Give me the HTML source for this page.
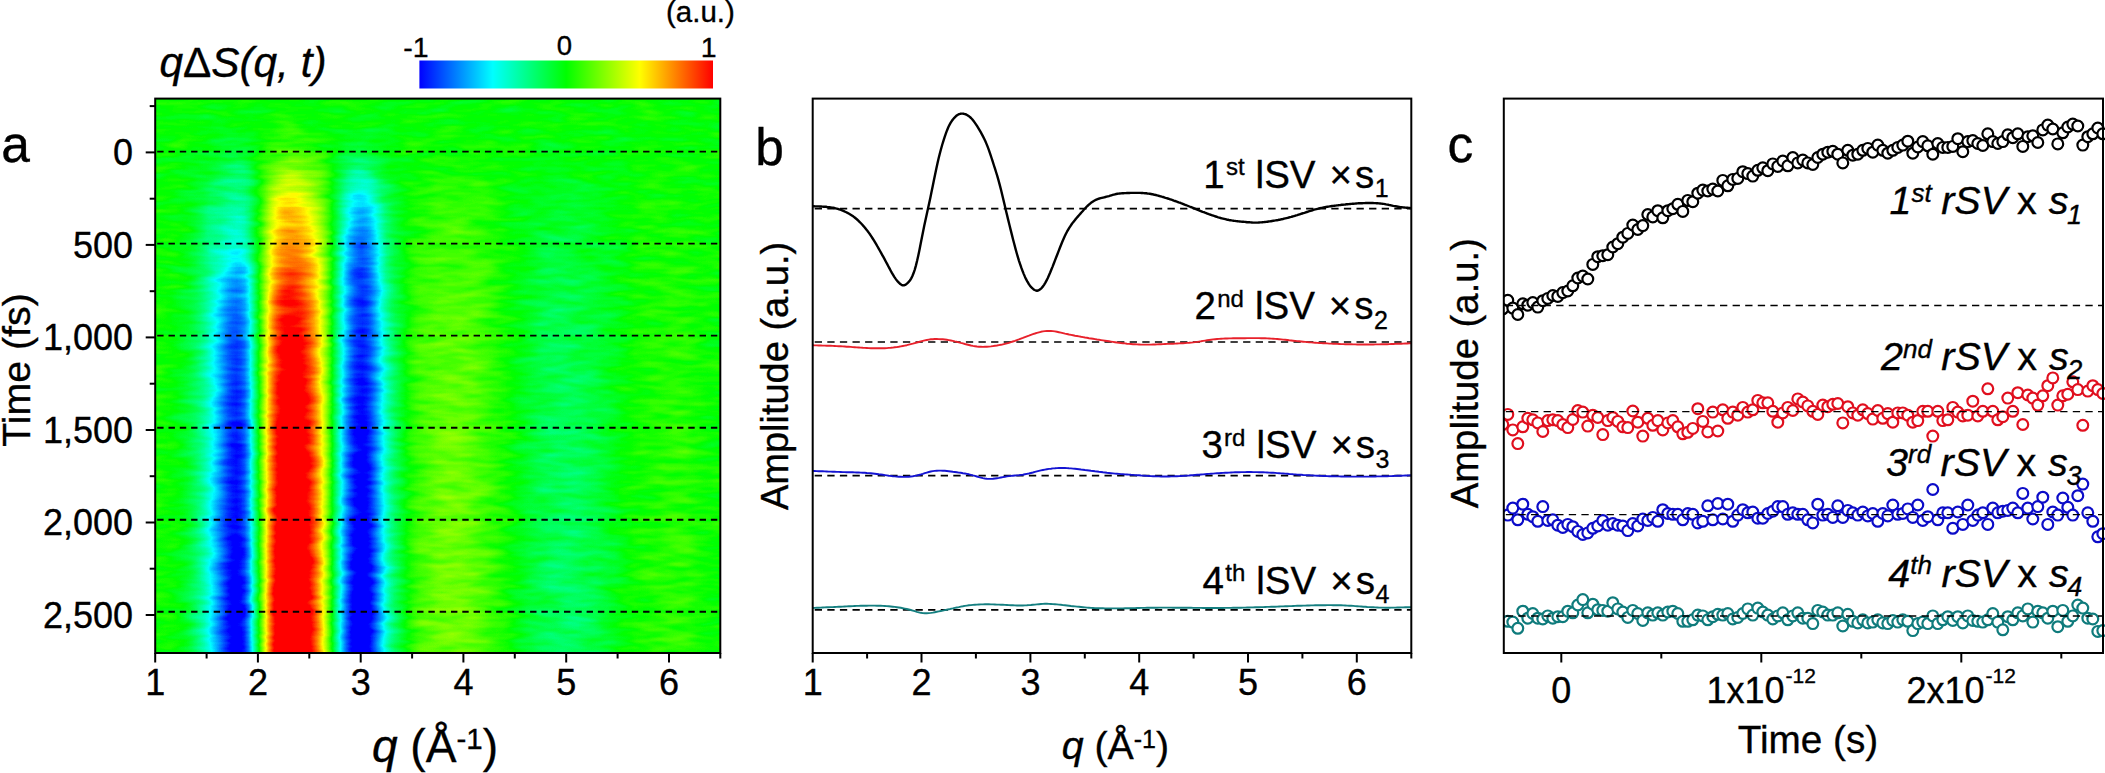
<!DOCTYPE html>
<html><head><meta charset="utf-8"><title>SVD figure</title>
<style>html,body{margin:0;padding:0;background:#fff;overflow:hidden}svg{display:block}text{font-family:"Liberation Sans", sans-serif;fill:#000;stroke:#000;stroke-width:0.35px}.i{font-style:italic}</style>
</head><body>
<svg width="2105" height="773" viewBox="0 0 2105 773">
<defs>
<linearGradient id="cb" x1="0" x2="1" y1="0" y2="0"><stop offset="0" stop-color="#0000ff"/><stop offset="0.25" stop-color="#00ffff"/><stop offset="0.5" stop-color="#00ff00"/><stop offset="0.75" stop-color="#ffff00"/><stop offset="1" stop-color="#ff0000"/></linearGradient>
<linearGradient id="gq" x1="0" x2="1" y1="0" y2="0"><stop offset="0.00%" stop-color="#060000"/><stop offset="0.72%" stop-color="#060000"/><stop offset="1.44%" stop-color="#050000"/><stop offset="2.16%" stop-color="#030000"/><stop offset="2.88%" stop-color="#010000"/><stop offset="3.60%" stop-color="#000200"/><stop offset="4.32%" stop-color="#000700"/><stop offset="5.04%" stop-color="#000c00"/><stop offset="5.76%" stop-color="#001300"/><stop offset="6.47%" stop-color="#001c00"/><stop offset="7.19%" stop-color="#002700"/><stop offset="7.91%" stop-color="#003400"/><stop offset="8.63%" stop-color="#004300"/><stop offset="9.35%" stop-color="#005500"/><stop offset="10.07%" stop-color="#006900"/><stop offset="10.79%" stop-color="#007d00"/><stop offset="11.51%" stop-color="#009200"/><stop offset="12.23%" stop-color="#00a700"/><stop offset="12.95%" stop-color="#00ba00"/><stop offset="13.67%" stop-color="#00c600"/><stop offset="14.39%" stop-color="#00cb00"/><stop offset="15.11%" stop-color="#00c200"/><stop offset="15.83%" stop-color="#00af00"/><stop offset="16.55%" stop-color="#008900"/><stop offset="17.27%" stop-color="#005100"/><stop offset="17.99%" stop-color="#001a00"/><stop offset="18.71%" stop-color="#1b0000"/><stop offset="19.42%" stop-color="#520000"/><stop offset="20.14%" stop-color="#870000"/><stop offset="20.86%" stop-color="#b10000"/><stop offset="21.58%" stop-color="#d20000"/><stop offset="22.30%" stop-color="#e80000"/><stop offset="23.02%" stop-color="#f50000"/><stop offset="23.74%" stop-color="#fb0000"/><stop offset="24.46%" stop-color="#fb0000"/><stop offset="25.18%" stop-color="#f50000"/><stop offset="25.90%" stop-color="#ea0000"/><stop offset="26.62%" stop-color="#d90000"/><stop offset="27.34%" stop-color="#c60000"/><stop offset="28.06%" stop-color="#ae0000"/><stop offset="28.78%" stop-color="#900000"/><stop offset="29.50%" stop-color="#6d0000"/><stop offset="30.22%" stop-color="#470000"/><stop offset="30.94%" stop-color="#190000"/><stop offset="31.65%" stop-color="#001700"/><stop offset="32.37%" stop-color="#004500"/><stop offset="33.09%" stop-color="#007100"/><stop offset="33.81%" stop-color="#009600"/><stop offset="34.53%" stop-color="#00b300"/><stop offset="35.25%" stop-color="#00c900"/><stop offset="35.97%" stop-color="#00d500"/><stop offset="36.69%" stop-color="#00d900"/><stop offset="37.41%" stop-color="#00d100"/><stop offset="38.13%" stop-color="#00bf00"/><stop offset="38.85%" stop-color="#00a600"/><stop offset="39.57%" stop-color="#008900"/><stop offset="40.29%" stop-color="#006c00"/><stop offset="41.01%" stop-color="#005000"/><stop offset="41.73%" stop-color="#003900"/><stop offset="42.45%" stop-color="#002700"/><stop offset="43.17%" stop-color="#001900"/><stop offset="43.88%" stop-color="#000c00"/><stop offset="44.60%" stop-color="#010000"/><stop offset="45.32%" stop-color="#0c0000"/><stop offset="46.04%" stop-color="#140000"/><stop offset="46.76%" stop-color="#1a0000"/><stop offset="47.48%" stop-color="#1d0000"/><stop offset="48.20%" stop-color="#200000"/><stop offset="48.92%" stop-color="#230000"/><stop offset="49.64%" stop-color="#260000"/><stop offset="50.36%" stop-color="#280000"/><stop offset="51.08%" stop-color="#290000"/><stop offset="51.80%" stop-color="#2a0000"/><stop offset="52.52%" stop-color="#2a0000"/><stop offset="53.24%" stop-color="#2a0000"/><stop offset="53.96%" stop-color="#2a0000"/><stop offset="54.68%" stop-color="#290000"/><stop offset="55.40%" stop-color="#270000"/><stop offset="56.12%" stop-color="#250000"/><stop offset="56.83%" stop-color="#220000"/><stop offset="57.55%" stop-color="#1f0000"/><stop offset="58.27%" stop-color="#1c0000"/><stop offset="58.99%" stop-color="#180000"/><stop offset="59.71%" stop-color="#140000"/><stop offset="60.43%" stop-color="#100000"/><stop offset="61.15%" stop-color="#0b0000"/><stop offset="61.87%" stop-color="#070000"/><stop offset="62.59%" stop-color="#020000"/><stop offset="63.31%" stop-color="#000200"/><stop offset="64.03%" stop-color="#000700"/><stop offset="64.75%" stop-color="#000b00"/><stop offset="65.47%" stop-color="#000f00"/><stop offset="66.19%" stop-color="#001300"/><stop offset="66.91%" stop-color="#001700"/><stop offset="67.63%" stop-color="#001a00"/><stop offset="68.35%" stop-color="#001d00"/><stop offset="69.06%" stop-color="#001f00"/><stop offset="69.78%" stop-color="#002100"/><stop offset="70.50%" stop-color="#002200"/><stop offset="71.22%" stop-color="#002300"/><stop offset="71.94%" stop-color="#002400"/><stop offset="72.66%" stop-color="#002500"/><stop offset="73.38%" stop-color="#002500"/><stop offset="74.10%" stop-color="#002400"/><stop offset="74.82%" stop-color="#002300"/><stop offset="75.54%" stop-color="#002100"/><stop offset="76.26%" stop-color="#001f00"/><stop offset="76.98%" stop-color="#001d00"/><stop offset="77.70%" stop-color="#001b00"/><stop offset="78.42%" stop-color="#001800"/><stop offset="79.14%" stop-color="#001500"/><stop offset="79.86%" stop-color="#001200"/><stop offset="80.58%" stop-color="#000e00"/><stop offset="81.29%" stop-color="#000b00"/><stop offset="82.01%" stop-color="#000700"/><stop offset="82.73%" stop-color="#000300"/><stop offset="83.45%" stop-color="#000000"/><stop offset="84.17%" stop-color="#020000"/><stop offset="84.89%" stop-color="#050000"/><stop offset="85.61%" stop-color="#060000"/><stop offset="86.33%" stop-color="#080000"/><stop offset="87.05%" stop-color="#090000"/><stop offset="87.77%" stop-color="#0b0000"/><stop offset="88.49%" stop-color="#0c0000"/><stop offset="89.21%" stop-color="#0d0000"/><stop offset="89.93%" stop-color="#0e0000"/><stop offset="90.65%" stop-color="#0e0000"/><stop offset="91.37%" stop-color="#0f0000"/><stop offset="92.09%" stop-color="#0f0000"/><stop offset="92.81%" stop-color="#0f0000"/><stop offset="93.53%" stop-color="#0e0000"/><stop offset="94.24%" stop-color="#0d0000"/><stop offset="94.96%" stop-color="#0b0000"/><stop offset="95.68%" stop-color="#090000"/><stop offset="96.40%" stop-color="#070000"/><stop offset="97.12%" stop-color="#050000"/><stop offset="97.84%" stop-color="#030000"/><stop offset="98.56%" stop-color="#020000"/><stop offset="99.28%" stop-color="#020000"/><stop offset="100.00%" stop-color="#020000"/></linearGradient>
<linearGradient id="gt" gradientUnits="userSpaceOnUse" x1="0" x2="0" y1="98.6" y2="653"><stop offset="0.36%" stop-color="#000" stop-opacity="1.000"/><stop offset="1.19%" stop-color="#000" stop-opacity="1.000"/><stop offset="1.19%" stop-color="#000" stop-opacity="1.000"/><stop offset="2.03%" stop-color="#000" stop-opacity="1.000"/><stop offset="2.03%" stop-color="#000" stop-opacity="1.000"/><stop offset="2.86%" stop-color="#000" stop-opacity="1.000"/><stop offset="2.86%" stop-color="#000" stop-opacity="0.992"/><stop offset="3.70%" stop-color="#000" stop-opacity="0.992"/><stop offset="3.70%" stop-color="#000" stop-opacity="0.992"/><stop offset="4.53%" stop-color="#000" stop-opacity="0.992"/><stop offset="4.53%" stop-color="#000" stop-opacity="0.977"/><stop offset="5.37%" stop-color="#000" stop-opacity="0.977"/><stop offset="5.37%" stop-color="#000" stop-opacity="0.969"/><stop offset="6.20%" stop-color="#000" stop-opacity="0.969"/><stop offset="6.20%" stop-color="#000" stop-opacity="0.954"/><stop offset="7.03%" stop-color="#000" stop-opacity="0.954"/><stop offset="7.03%" stop-color="#000" stop-opacity="0.947"/><stop offset="7.87%" stop-color="#000" stop-opacity="0.947"/><stop offset="7.87%" stop-color="#000" stop-opacity="0.932"/><stop offset="8.70%" stop-color="#000" stop-opacity="0.932"/><stop offset="8.70%" stop-color="#000" stop-opacity="0.916"/><stop offset="9.54%" stop-color="#000" stop-opacity="0.916"/><stop offset="9.54%" stop-color="#000" stop-opacity="0.893"/><stop offset="10.37%" stop-color="#000" stop-opacity="0.893"/><stop offset="10.37%" stop-color="#000" stop-opacity="0.874"/><stop offset="11.21%" stop-color="#000" stop-opacity="0.874"/><stop offset="11.21%" stop-color="#000" stop-opacity="0.850"/><stop offset="12.04%" stop-color="#000" stop-opacity="0.850"/><stop offset="12.04%" stop-color="#000" stop-opacity="0.828"/><stop offset="12.87%" stop-color="#000" stop-opacity="0.828"/><stop offset="12.87%" stop-color="#000" stop-opacity="0.794"/><stop offset="13.71%" stop-color="#000" stop-opacity="0.794"/><stop offset="13.71%" stop-color="#000" stop-opacity="0.768"/><stop offset="14.54%" stop-color="#000" stop-opacity="0.768"/><stop offset="14.54%" stop-color="#000" stop-opacity="0.740"/><stop offset="15.38%" stop-color="#000" stop-opacity="0.740"/><stop offset="15.38%" stop-color="#000" stop-opacity="0.722"/><stop offset="16.21%" stop-color="#000" stop-opacity="0.722"/><stop offset="16.21%" stop-color="#000" stop-opacity="0.697"/><stop offset="17.05%" stop-color="#000" stop-opacity="0.697"/><stop offset="17.05%" stop-color="#000" stop-opacity="0.675"/><stop offset="17.88%" stop-color="#000" stop-opacity="0.675"/><stop offset="17.88%" stop-color="#000" stop-opacity="0.643"/><stop offset="18.72%" stop-color="#000" stop-opacity="0.643"/><stop offset="18.72%" stop-color="#000" stop-opacity="0.624"/><stop offset="19.55%" stop-color="#000" stop-opacity="0.624"/><stop offset="19.55%" stop-color="#000" stop-opacity="0.600"/><stop offset="20.38%" stop-color="#000" stop-opacity="0.600"/><stop offset="20.38%" stop-color="#000" stop-opacity="0.586"/><stop offset="21.22%" stop-color="#000" stop-opacity="0.586"/><stop offset="21.22%" stop-color="#000" stop-opacity="0.568"/><stop offset="22.05%" stop-color="#000" stop-opacity="0.568"/><stop offset="22.05%" stop-color="#000" stop-opacity="0.544"/><stop offset="22.89%" stop-color="#000" stop-opacity="0.544"/><stop offset="22.89%" stop-color="#000" stop-opacity="0.537"/><stop offset="23.72%" stop-color="#000" stop-opacity="0.537"/><stop offset="23.72%" stop-color="#000" stop-opacity="0.518"/><stop offset="24.56%" stop-color="#000" stop-opacity="0.518"/><stop offset="24.56%" stop-color="#000" stop-opacity="0.521"/><stop offset="25.39%" stop-color="#000" stop-opacity="0.521"/><stop offset="25.39%" stop-color="#000" stop-opacity="0.503"/><stop offset="26.23%" stop-color="#000" stop-opacity="0.503"/><stop offset="26.23%" stop-color="#000" stop-opacity="0.501"/><stop offset="27.06%" stop-color="#000" stop-opacity="0.501"/><stop offset="27.06%" stop-color="#000" stop-opacity="0.482"/><stop offset="27.89%" stop-color="#000" stop-opacity="0.482"/><stop offset="27.89%" stop-color="#000" stop-opacity="0.482"/><stop offset="28.73%" stop-color="#000" stop-opacity="0.482"/><stop offset="28.73%" stop-color="#000" stop-opacity="0.457"/><stop offset="29.56%" stop-color="#000" stop-opacity="0.457"/><stop offset="29.56%" stop-color="#000" stop-opacity="0.447"/><stop offset="30.40%" stop-color="#000" stop-opacity="0.447"/><stop offset="30.40%" stop-color="#000" stop-opacity="0.421"/><stop offset="31.23%" stop-color="#000" stop-opacity="0.421"/><stop offset="31.23%" stop-color="#000" stop-opacity="0.408"/><stop offset="32.07%" stop-color="#000" stop-opacity="0.408"/><stop offset="32.07%" stop-color="#000" stop-opacity="0.400"/><stop offset="32.90%" stop-color="#000" stop-opacity="0.400"/><stop offset="32.90%" stop-color="#000" stop-opacity="0.387"/><stop offset="33.74%" stop-color="#000" stop-opacity="0.387"/><stop offset="33.74%" stop-color="#000" stop-opacity="0.385"/><stop offset="34.57%" stop-color="#000" stop-opacity="0.385"/><stop offset="34.57%" stop-color="#000" stop-opacity="0.364"/><stop offset="35.40%" stop-color="#000" stop-opacity="0.364"/><stop offset="35.40%" stop-color="#000" stop-opacity="0.361"/><stop offset="36.24%" stop-color="#000" stop-opacity="0.361"/><stop offset="36.24%" stop-color="#000" stop-opacity="0.338"/><stop offset="37.07%" stop-color="#000" stop-opacity="0.338"/><stop offset="37.07%" stop-color="#000" stop-opacity="0.331"/><stop offset="37.91%" stop-color="#000" stop-opacity="0.331"/><stop offset="37.91%" stop-color="#000" stop-opacity="0.316"/><stop offset="38.74%" stop-color="#000" stop-opacity="0.316"/><stop offset="38.74%" stop-color="#000" stop-opacity="0.311"/><stop offset="39.58%" stop-color="#000" stop-opacity="0.311"/><stop offset="39.58%" stop-color="#000" stop-opacity="0.304"/><stop offset="40.41%" stop-color="#000" stop-opacity="0.304"/><stop offset="40.41%" stop-color="#000" stop-opacity="0.297"/><stop offset="41.25%" stop-color="#000" stop-opacity="0.297"/><stop offset="41.25%" stop-color="#000" stop-opacity="0.287"/><stop offset="42.08%" stop-color="#000" stop-opacity="0.287"/><stop offset="42.08%" stop-color="#000" stop-opacity="0.281"/><stop offset="42.91%" stop-color="#000" stop-opacity="0.281"/><stop offset="42.91%" stop-color="#000" stop-opacity="0.267"/><stop offset="43.75%" stop-color="#000" stop-opacity="0.267"/><stop offset="43.75%" stop-color="#000" stop-opacity="0.267"/><stop offset="44.58%" stop-color="#000" stop-opacity="0.267"/><stop offset="44.58%" stop-color="#000" stop-opacity="0.251"/><stop offset="45.42%" stop-color="#000" stop-opacity="0.251"/><stop offset="45.42%" stop-color="#000" stop-opacity="0.255"/><stop offset="46.25%" stop-color="#000" stop-opacity="0.255"/><stop offset="46.25%" stop-color="#000" stop-opacity="0.241"/><stop offset="47.09%" stop-color="#000" stop-opacity="0.241"/><stop offset="47.09%" stop-color="#000" stop-opacity="0.248"/><stop offset="47.92%" stop-color="#000" stop-opacity="0.248"/><stop offset="47.92%" stop-color="#000" stop-opacity="0.244"/><stop offset="48.75%" stop-color="#000" stop-opacity="0.244"/><stop offset="48.75%" stop-color="#000" stop-opacity="0.247"/><stop offset="49.59%" stop-color="#000" stop-opacity="0.247"/><stop offset="49.59%" stop-color="#000" stop-opacity="0.241"/><stop offset="50.42%" stop-color="#000" stop-opacity="0.241"/><stop offset="50.42%" stop-color="#000" stop-opacity="0.227"/><stop offset="51.26%" stop-color="#000" stop-opacity="0.227"/><stop offset="51.26%" stop-color="#000" stop-opacity="0.214"/><stop offset="52.09%" stop-color="#000" stop-opacity="0.214"/><stop offset="52.09%" stop-color="#000" stop-opacity="0.203"/><stop offset="52.93%" stop-color="#000" stop-opacity="0.203"/><stop offset="52.93%" stop-color="#000" stop-opacity="0.207"/><stop offset="53.76%" stop-color="#000" stop-opacity="0.207"/><stop offset="53.76%" stop-color="#000" stop-opacity="0.207"/><stop offset="54.60%" stop-color="#000" stop-opacity="0.207"/><stop offset="54.60%" stop-color="#000" stop-opacity="0.219"/><stop offset="55.43%" stop-color="#000" stop-opacity="0.219"/><stop offset="55.43%" stop-color="#000" stop-opacity="0.208"/><stop offset="56.26%" stop-color="#000" stop-opacity="0.208"/><stop offset="56.26%" stop-color="#000" stop-opacity="0.210"/><stop offset="57.10%" stop-color="#000" stop-opacity="0.210"/><stop offset="57.10%" stop-color="#000" stop-opacity="0.196"/><stop offset="57.93%" stop-color="#000" stop-opacity="0.196"/><stop offset="57.93%" stop-color="#000" stop-opacity="0.194"/><stop offset="58.77%" stop-color="#000" stop-opacity="0.194"/><stop offset="58.77%" stop-color="#000" stop-opacity="0.183"/><stop offset="59.60%" stop-color="#000" stop-opacity="0.183"/><stop offset="59.60%" stop-color="#000" stop-opacity="0.184"/><stop offset="60.44%" stop-color="#000" stop-opacity="0.184"/><stop offset="60.44%" stop-color="#000" stop-opacity="0.179"/><stop offset="61.27%" stop-color="#000" stop-opacity="0.179"/><stop offset="61.27%" stop-color="#000" stop-opacity="0.186"/><stop offset="62.11%" stop-color="#000" stop-opacity="0.186"/><stop offset="62.11%" stop-color="#000" stop-opacity="0.185"/><stop offset="62.94%" stop-color="#000" stop-opacity="0.185"/><stop offset="62.94%" stop-color="#000" stop-opacity="0.182"/><stop offset="63.77%" stop-color="#000" stop-opacity="0.182"/><stop offset="63.77%" stop-color="#000" stop-opacity="0.171"/><stop offset="64.61%" stop-color="#000" stop-opacity="0.171"/><stop offset="64.61%" stop-color="#000" stop-opacity="0.169"/><stop offset="65.44%" stop-color="#000" stop-opacity="0.169"/><stop offset="65.44%" stop-color="#000" stop-opacity="0.162"/><stop offset="66.28%" stop-color="#000" stop-opacity="0.162"/><stop offset="66.28%" stop-color="#000" stop-opacity="0.170"/><stop offset="67.11%" stop-color="#000" stop-opacity="0.170"/><stop offset="67.11%" stop-color="#000" stop-opacity="0.164"/><stop offset="67.95%" stop-color="#000" stop-opacity="0.164"/><stop offset="67.95%" stop-color="#000" stop-opacity="0.169"/><stop offset="68.78%" stop-color="#000" stop-opacity="0.169"/><stop offset="68.78%" stop-color="#000" stop-opacity="0.165"/><stop offset="69.62%" stop-color="#000" stop-opacity="0.165"/><stop offset="69.62%" stop-color="#000" stop-opacity="0.175"/><stop offset="70.45%" stop-color="#000" stop-opacity="0.175"/><stop offset="70.45%" stop-color="#000" stop-opacity="0.168"/><stop offset="71.28%" stop-color="#000" stop-opacity="0.168"/><stop offset="71.28%" stop-color="#000" stop-opacity="0.173"/><stop offset="72.12%" stop-color="#000" stop-opacity="0.173"/><stop offset="72.12%" stop-color="#000" stop-opacity="0.160"/><stop offset="72.95%" stop-color="#000" stop-opacity="0.160"/><stop offset="72.95%" stop-color="#000" stop-opacity="0.166"/><stop offset="73.79%" stop-color="#000" stop-opacity="0.166"/><stop offset="73.79%" stop-color="#000" stop-opacity="0.153"/><stop offset="74.62%" stop-color="#000" stop-opacity="0.153"/><stop offset="74.62%" stop-color="#000" stop-opacity="0.161"/><stop offset="75.46%" stop-color="#000" stop-opacity="0.161"/><stop offset="75.46%" stop-color="#000" stop-opacity="0.148"/><stop offset="76.29%" stop-color="#000" stop-opacity="0.148"/><stop offset="76.29%" stop-color="#000" stop-opacity="0.152"/><stop offset="77.12%" stop-color="#000" stop-opacity="0.152"/><stop offset="77.12%" stop-color="#000" stop-opacity="0.140"/><stop offset="77.96%" stop-color="#000" stop-opacity="0.140"/><stop offset="77.96%" stop-color="#000" stop-opacity="0.142"/><stop offset="78.79%" stop-color="#000" stop-opacity="0.142"/><stop offset="78.79%" stop-color="#000" stop-opacity="0.132"/><stop offset="79.63%" stop-color="#000" stop-opacity="0.132"/><stop offset="79.63%" stop-color="#000" stop-opacity="0.139"/><stop offset="80.46%" stop-color="#000" stop-opacity="0.139"/><stop offset="80.46%" stop-color="#000" stop-opacity="0.132"/><stop offset="81.30%" stop-color="#000" stop-opacity="0.132"/><stop offset="81.30%" stop-color="#000" stop-opacity="0.133"/><stop offset="82.13%" stop-color="#000" stop-opacity="0.133"/><stop offset="82.13%" stop-color="#000" stop-opacity="0.120"/><stop offset="82.97%" stop-color="#000" stop-opacity="0.120"/><stop offset="82.97%" stop-color="#000" stop-opacity="0.125"/><stop offset="83.80%" stop-color="#000" stop-opacity="0.125"/><stop offset="83.80%" stop-color="#000" stop-opacity="0.117"/><stop offset="84.63%" stop-color="#000" stop-opacity="0.117"/><stop offset="84.63%" stop-color="#000" stop-opacity="0.131"/><stop offset="85.47%" stop-color="#000" stop-opacity="0.131"/><stop offset="85.47%" stop-color="#000" stop-opacity="0.125"/><stop offset="86.30%" stop-color="#000" stop-opacity="0.125"/><stop offset="86.30%" stop-color="#000" stop-opacity="0.121"/><stop offset="87.14%" stop-color="#000" stop-opacity="0.121"/><stop offset="87.14%" stop-color="#000" stop-opacity="0.110"/><stop offset="87.97%" stop-color="#000" stop-opacity="0.110"/><stop offset="87.97%" stop-color="#000" stop-opacity="0.090"/><stop offset="88.81%" stop-color="#000" stop-opacity="0.090"/><stop offset="88.81%" stop-color="#000" stop-opacity="0.092"/><stop offset="89.64%" stop-color="#000" stop-opacity="0.092"/><stop offset="89.64%" stop-color="#000" stop-opacity="0.088"/><stop offset="90.48%" stop-color="#000" stop-opacity="0.088"/><stop offset="90.48%" stop-color="#000" stop-opacity="0.101"/><stop offset="91.31%" stop-color="#000" stop-opacity="0.101"/><stop offset="91.31%" stop-color="#000" stop-opacity="0.088"/><stop offset="92.14%" stop-color="#000" stop-opacity="0.088"/><stop offset="92.14%" stop-color="#000" stop-opacity="0.080"/><stop offset="92.98%" stop-color="#000" stop-opacity="0.080"/><stop offset="92.98%" stop-color="#000" stop-opacity="0.078"/><stop offset="93.81%" stop-color="#000" stop-opacity="0.078"/><stop offset="93.81%" stop-color="#000" stop-opacity="0.083"/><stop offset="94.65%" stop-color="#000" stop-opacity="0.083"/><stop offset="94.65%" stop-color="#000" stop-opacity="0.109"/><stop offset="95.48%" stop-color="#000" stop-opacity="0.109"/><stop offset="95.48%" stop-color="#000" stop-opacity="0.103"/><stop offset="96.32%" stop-color="#000" stop-opacity="0.103"/><stop offset="96.32%" stop-color="#000" stop-opacity="0.107"/><stop offset="97.15%" stop-color="#000" stop-opacity="0.107"/><stop offset="97.15%" stop-color="#000" stop-opacity="0.091"/><stop offset="97.99%" stop-color="#000" stop-opacity="0.091"/><stop offset="97.99%" stop-color="#000" stop-opacity="0.095"/><stop offset="98.82%" stop-color="#000" stop-opacity="0.095"/><stop offset="98.82%" stop-color="#000" stop-opacity="0.095"/><stop offset="99.65%" stop-color="#000" stop-opacity="0.095"/><stop offset="99.65%" stop-color="#000" stop-opacity="0.095"/><stop offset="100.00%" stop-color="#000" stop-opacity="0.095"/></linearGradient>
<radialGradient id="gb"><stop offset="0" stop-color="#0000ff" stop-opacity="1"/><stop offset="0.5" stop-color="#0000ff" stop-opacity="0.55"/><stop offset="1" stop-color="#0000ff" stop-opacity="0"/></radialGradient>
<radialGradient id="gr"><stop offset="0" stop-color="#1e0000" stop-opacity="1"/><stop offset="0.55" stop-color="#1e0000" stop-opacity="0.6"/><stop offset="1" stop-color="#1e0000" stop-opacity="0"/></radialGradient>
<filter id="cm" x="0" y="0" width="1" height="1" color-interpolation-filters="sRGB"><feColorMatrix in="SourceGraphic" type="matrix" values="0.3696 -0.3696 -0.048 0 0.5  0.3696 -0.3696 -0.048 0 0.5  0.3696 -0.3696 -0.048 0 0.5  0 0 0 0 1" result="v"/><feTurbulence type="fractalNoise" baseFrequency="0.03 0.14" numOctaves="2" seed="7" result="n"/><feColorMatrix in="n" type="matrix" values="1 0 0 0 0  1 0 0 0 0  1 0 0 0 0  0 0 0 0 1" result="n1"/><feComposite in="v" in2="n1" operator="arithmetic" k1="0" k2="1" k3="0.07" k4="-0.035" result="vn"/><feComponentTransfer in="vn"><feFuncR type="table" tableValues="0 0 0 0 0 1 1 1 1"/><feFuncG type="table" tableValues="0 0 0 1 1 1 0 0 0"/><feFuncB type="table" tableValues="1 1 1 1 0 0 0 0 0"/><feFuncA type="linear" slope="0" intercept="1"/></feComponentTransfer></filter>
<clipPath id="ca"><rect x="155.2" y="98.6" width="565.1" height="554.4"/></clipPath>
<clipPath id="cc"><rect x="1503.8" y="98.6" width="601.2" height="554.4"/></clipPath>
</defs>
<rect width="2105" height="773" fill="#fff"/>
<g filter="url(#cm)" clip-path="url(#ca)">
<rect x="155.2" y="98.6" width="565.1" height="554.4" fill="url(#gq)"/>
<rect x="155.2" y="98.6" width="565.1" height="554.4" fill="url(#gt)"/>
<ellipse cx="360.7" cy="248.6" rx="26" ry="95" fill="url(#gb)" style="mix-blend-mode:screen"/>
<ellipse cx="234.3" cy="226.4" rx="27" ry="62" fill="url(#gr)" style="mix-blend-mode:screen"/>
</g>
<rect x="419.4" y="60.5" width="293.6" height="28" fill="url(#cb)"/>
<line x1="157.2" x2="720.3" y1="151.6" y2="151.6" stroke="#000" stroke-width="1.9" stroke-dasharray="6.4 4.9"/>
<line x1="157.2" x2="720.3" y1="243.6" y2="243.6" stroke="#000" stroke-width="1.9" stroke-dasharray="6.4 4.9"/>
<line x1="157.2" x2="720.3" y1="335.6" y2="335.6" stroke="#000" stroke-width="1.9" stroke-dasharray="6.4 4.9"/>
<line x1="157.2" x2="720.3" y1="427.7" y2="427.7" stroke="#000" stroke-width="1.9" stroke-dasharray="6.4 4.9"/>
<line x1="157.2" x2="720.3" y1="519.7" y2="519.7" stroke="#000" stroke-width="1.9" stroke-dasharray="6.4 4.9"/>
<line x1="157.2" x2="720.3" y1="611.7" y2="611.7" stroke="#000" stroke-width="1.9" stroke-dasharray="6.4 4.9"/>
<rect x="155.2" y="98.6" width="565.1" height="554.4" fill="none" stroke="#000" stroke-width="2"/>
<line x1="145.7" x2="155.2" y1="152.4" y2="152.4" stroke="#000" stroke-width="2"/>
<line x1="145.7" x2="155.2" y1="244.9" y2="244.9" stroke="#000" stroke-width="2"/>
<line x1="145.7" x2="155.2" y1="337.4" y2="337.4" stroke="#000" stroke-width="2"/>
<line x1="145.7" x2="155.2" y1="430" y2="430" stroke="#000" stroke-width="2"/>
<line x1="145.7" x2="155.2" y1="522.5" y2="522.5" stroke="#000" stroke-width="2"/>
<line x1="145.7" x2="155.2" y1="615" y2="615" stroke="#000" stroke-width="2"/>
<line x1="149.7" x2="155.2" y1="106.1" y2="106.1" stroke="#000" stroke-width="2"/>
<line x1="149.7" x2="155.2" y1="198.7" y2="198.7" stroke="#000" stroke-width="2"/>
<line x1="149.7" x2="155.2" y1="291.2" y2="291.2" stroke="#000" stroke-width="2"/>
<line x1="149.7" x2="155.2" y1="383.7" y2="383.7" stroke="#000" stroke-width="2"/>
<line x1="149.7" x2="155.2" y1="476.2" y2="476.2" stroke="#000" stroke-width="2"/>
<line x1="149.7" x2="155.2" y1="568.7" y2="568.7" stroke="#000" stroke-width="2"/>
<line x1="155.2" x2="155.2" y1="653" y2="662.5" stroke="#000" stroke-width="2"/>
<line x1="206.6" x2="206.6" y1="653" y2="658.5" stroke="#000" stroke-width="2"/>
<line x1="257.9" x2="257.9" y1="653" y2="662.5" stroke="#000" stroke-width="2"/>
<line x1="309.3" x2="309.3" y1="653" y2="658.5" stroke="#000" stroke-width="2"/>
<line x1="360.7" x2="360.7" y1="653" y2="662.5" stroke="#000" stroke-width="2"/>
<line x1="412.1" x2="412.1" y1="653" y2="658.5" stroke="#000" stroke-width="2"/>
<line x1="463.4" x2="463.4" y1="653" y2="662.5" stroke="#000" stroke-width="2"/>
<line x1="514.8" x2="514.8" y1="653" y2="658.5" stroke="#000" stroke-width="2"/>
<line x1="566.2" x2="566.2" y1="653" y2="662.5" stroke="#000" stroke-width="2"/>
<line x1="617.6" x2="617.6" y1="653" y2="658.5" stroke="#000" stroke-width="2"/>
<line x1="669" x2="669" y1="653" y2="662.5" stroke="#000" stroke-width="2"/>
<line x1="720.3" x2="720.3" y1="653" y2="658.5" stroke="#000" stroke-width="2"/>
<text x="133" y="165.3" font-size="36" text-anchor="end">0</text>
<text x="133" y="257.8" font-size="36" text-anchor="end">500</text>
<text x="133" y="350.3" font-size="36" text-anchor="end">1,000</text>
<text x="133" y="442.9" font-size="36" text-anchor="end">1,500</text>
<text x="133" y="535.4" font-size="36" text-anchor="end">2,000</text>
<text x="133" y="627.9" font-size="36" text-anchor="end">2,500</text>
<text x="155.2" y="695.1" font-size="36" text-anchor="middle">1</text>
<text x="257.9" y="695.1" font-size="36" text-anchor="middle">2</text>
<text x="360.7" y="695.1" font-size="36" text-anchor="middle">3</text>
<text x="463.4" y="695.1" font-size="36" text-anchor="middle">4</text>
<text x="566.2" y="695.1" font-size="36" text-anchor="middle">5</text>
<text x="669" y="695.1" font-size="36" text-anchor="middle">6</text>
<text transform="translate(30.2 370) rotate(-90)" font-size="39.3" text-anchor="middle">Time (fs)</text>
<text x="435" y="761.6" font-size="46.1" text-anchor="middle"><tspan class="i">q</tspan> (Å<tspan font-size="29.5" dy="-12.7">-1</tspan><tspan dy="12.7">)</tspan></text>
<text x="159.5" y="77" font-size="42.3"><tspan class="i">q</tspan>Δ<tspan class="i">S</tspan><tspan class="i">(q, t</tspan><tspan class="i">)</tspan></text>
<text x="428.5" y="57.4" font-size="28.5" text-anchor="end">-1</text>
<text x="564.5" y="55.2" font-size="27.5" text-anchor="middle">0</text>
<text x="716.5" y="57.4" font-size="28.5" text-anchor="end">1</text>
<text x="666" y="21.7" font-size="29.5" text-anchor="start">(a.u.)</text>
<text x="1.2" y="162" font-size="51.5" text-anchor="start" stroke="#000" stroke-width="0.5">a</text>
<line x1="814.7" x2="1411.3" y1="208.7" y2="208.7" stroke="#000" stroke-width="1.7" stroke-dasharray="7.3 5.3"/>
<line x1="814.7" x2="1411.3" y1="342" y2="342" stroke="#000" stroke-width="1.7" stroke-dasharray="7.3 5.3"/>
<line x1="814.7" x2="1411.3" y1="475.6" y2="475.6" stroke="#000" stroke-width="1.7" stroke-dasharray="7.3 5.3"/>
<line x1="814.7" x2="1411.3" y1="609.8" y2="609.8" stroke="#000" stroke-width="1.7" stroke-dasharray="7.3 5.3"/>
<path d="M812.7 206.3 L813.9 206.3 L815.1 206.4 L816.3 206.4 L817.5 206.4 L818.7 206.4 L819.9 206.5 L821.1 206.5 L822.3 206.6 L823.5 206.7 L824.7 206.8 L825.9 206.8 L827.1 207 L828.3 207.1 L829.5 207.2 L830.7 207.4 L831.9 207.6 L833.1 207.8 L834.3 208 L835.5 208.3 L836.7 208.6 L837.9 208.9 L839.1 209.3 L840.3 209.7 L841.5 210.1 L842.7 210.6 L843.9 211.1 L845.1 211.7 L846.3 212.3 L847.5 212.9 L848.7 213.5 L849.9 214.2 L851.1 215 L852.3 215.8 L853.5 216.6 L854.7 217.5 L855.9 218.5 L857.1 219.5 L858.3 220.6 L859.5 221.8 L860.7 223 L861.9 224.3 L863.1 225.6 L864.3 227 L865.5 228.4 L866.7 229.9 L867.9 231.5 L869.1 233.1 L870.3 234.8 L871.5 236.6 L872.7 238.5 L873.9 240.4 L875.1 242.4 L876.3 244.4 L877.5 246.5 L878.7 248.6 L879.9 250.8 L881.1 252.9 L882.3 255.1 L883.5 257.2 L884.7 259.4 L885.9 261.7 L887.1 263.9 L888.3 266.2 L889.5 268.4 L890.7 270.7 L891.9 272.9 L893.1 274.9 L894.3 276.9 L895.5 278.6 L896.7 280.2 L897.9 281.6 L899.1 282.9 L900.3 284 L901.5 284.8 L902.7 285.3 L903.9 285.4 L905.1 284.9 L906.3 284.2 L907.5 283.1 L908.7 281.9 L909.9 280.5 L911.1 278.6 L912.3 276.3 L913.5 273.3 L914.7 269.8 L915.9 265.6 L917.1 260.8 L918.3 255.5 L919.5 249.7 L920.7 243.6 L921.9 237.4 L923.1 231.4 L924.3 225.6 L925.5 220 L926.7 214.6 L927.9 209.1 L929.1 203.6 L930.3 197.9 L931.5 192.1 L932.7 186.2 L933.9 180.3 L935.1 174.4 L936.3 168.7 L937.5 163.2 L938.7 158.1 L939.9 153.3 L941.1 148.8 L942.3 144.5 L943.5 140.6 L944.7 136.8 L945.9 133.4 L947.1 130.2 L948.3 127.3 L949.5 124.8 L950.7 122.7 L951.9 120.8 L953.1 119.2 L954.3 117.8 L955.5 116.6 L956.7 115.5 L957.9 114.7 L959.1 114.1 L960.3 113.8 L961.5 113.6 L962.6 113.6 L963.8 113.8 L965 114.1 L966.2 114.5 L967.4 115.2 L968.6 116 L969.8 116.9 L971 118 L972.2 119.3 L973.4 120.8 L974.6 122.4 L975.8 124.1 L977 125.9 L978.2 127.8 L979.4 129.8 L980.6 131.9 L981.8 134.1 L983 136.4 L984.2 138.8 L985.4 141.3 L986.6 144.1 L987.8 147.1 L989 150.3 L990.2 153.8 L991.4 157.5 L992.6 161.2 L993.8 165 L995 168.7 L996.2 172.5 L997.4 176.4 L998.6 180.6 L999.8 185.1 L1001 189.8 L1002.2 194.7 L1003.4 199.7 L1004.6 204.8 L1005.8 209.9 L1007 214.9 L1008.2 219.9 L1009.4 224.8 L1010.6 229.6 L1011.8 234.4 L1013 239.2 L1014.2 243.8 L1015.4 248.4 L1016.6 252.7 L1017.8 256.9 L1019 260.8 L1020.2 264.4 L1021.4 267.9 L1022.6 271.1 L1023.8 274.1 L1025 276.9 L1026.2 279.4 L1027.4 281.7 L1028.6 283.7 L1029.8 285.4 L1031 286.9 L1032.2 288.2 L1033.4 289.2 L1034.6 290 L1035.8 290.5 L1037 290.7 L1038.2 290.5 L1039.4 289.9 L1040.6 289 L1041.8 287.8 L1043 286.4 L1044.2 284.6 L1045.4 282.6 L1046.6 280.4 L1047.8 277.9 L1049 275.2 L1050.2 272.5 L1051.4 269.5 L1052.6 266.6 L1053.8 263.5 L1055 260.4 L1056.2 257.3 L1057.4 254.2 L1058.6 251.1 L1059.8 248 L1061 245 L1062.2 242 L1063.4 239.2 L1064.6 236.5 L1065.8 234 L1067 231.7 L1068.2 229.6 L1069.4 227.6 L1070.6 225.8 L1071.8 224 L1073 222.4 L1074.2 220.9 L1075.4 219.4 L1076.6 218 L1077.8 216.6 L1079 215.2 L1080.2 213.9 L1081.4 212.5 L1082.6 211.2 L1083.8 209.8 L1085 208.5 L1086.2 207.2 L1087.4 206 L1088.6 204.9 L1089.8 203.8 L1091 202.8 L1092.2 202 L1093.4 201.2 L1094.6 200.5 L1095.8 199.9 L1097 199.4 L1098.2 198.9 L1099.4 198.5 L1100.6 198.2 L1101.8 197.9 L1103 197.6 L1104.2 197.3 L1105.4 197 L1106.6 196.7 L1107.8 196.4 L1109 196.1 L1110.2 195.7 L1111.4 195.3 L1112.6 194.9 L1113.8 194.6 L1115 194.3 L1116.2 194 L1117.4 193.8 L1118.6 193.6 L1119.8 193.5 L1121 193.4 L1122.2 193.3 L1123.4 193.2 L1124.6 193.1 L1125.8 193.1 L1127 193 L1128.2 193 L1129.4 193 L1130.6 192.9 L1131.8 192.9 L1133 192.9 L1134.2 192.9 L1135.4 192.9 L1136.6 192.9 L1137.8 192.9 L1139 192.9 L1140.2 192.9 L1141.4 193 L1142.6 193 L1143.8 193.1 L1145 193.2 L1146.2 193.3 L1147.4 193.5 L1148.6 193.6 L1149.8 193.8 L1151 194 L1152.2 194.2 L1153.4 194.5 L1154.6 194.8 L1155.8 195 L1157 195.3 L1158.2 195.6 L1159.4 196 L1160.6 196.3 L1161.8 196.7 L1163 197 L1164.2 197.4 L1165.4 197.8 L1166.6 198.1 L1167.8 198.5 L1169 198.9 L1170.2 199.3 L1171.4 199.7 L1172.6 200.1 L1173.8 200.6 L1175 201 L1176.2 201.4 L1177.4 201.8 L1178.6 202.3 L1179.8 202.7 L1181 203.2 L1182.2 203.6 L1183.4 204.1 L1184.6 204.6 L1185.8 205 L1187 205.5 L1188.2 206 L1189.4 206.5 L1190.6 207 L1191.8 207.4 L1193 207.9 L1194.2 208.4 L1195.4 208.9 L1196.6 209.4 L1197.8 209.9 L1199 210.3 L1200.2 210.8 L1201.4 211.3 L1202.6 211.8 L1203.8 212.2 L1205 212.7 L1206.2 213.1 L1207.4 213.6 L1208.6 214 L1209.8 214.5 L1211 214.9 L1212.2 215.3 L1213.4 215.7 L1214.6 216.1 L1215.8 216.5 L1217 216.9 L1218.2 217.3 L1219.4 217.6 L1220.6 218 L1221.8 218.3 L1223 218.6 L1224.2 218.9 L1225.4 219.2 L1226.6 219.5 L1227.8 219.7 L1229 220 L1230.2 220.2 L1231.4 220.4 L1232.6 220.6 L1233.8 220.8 L1235 220.9 L1236.2 221.1 L1237.4 221.2 L1238.6 221.4 L1239.8 221.5 L1241 221.6 L1242.2 221.7 L1243.4 221.8 L1244.6 221.9 L1245.8 222 L1247 222.2 L1248.2 222.3 L1249.4 222.3 L1250.6 222.4 L1251.8 222.5 L1253 222.6 L1254.2 222.6 L1255.4 222.6 L1256.6 222.6 L1257.8 222.6 L1259 222.5 L1260.2 222.4 L1261.4 222.4 L1262.5 222.2 L1263.7 222.1 L1264.9 222 L1266.1 221.9 L1267.3 221.7 L1268.5 221.5 L1269.7 221.4 L1270.9 221.2 L1272.1 221 L1273.3 220.8 L1274.5 220.6 L1275.7 220.4 L1276.9 220.2 L1278.1 220 L1279.3 219.7 L1280.5 219.5 L1281.7 219.2 L1282.9 219 L1284.1 218.7 L1285.3 218.4 L1286.5 218.1 L1287.7 217.8 L1288.9 217.5 L1290.1 217.2 L1291.3 216.9 L1292.5 216.5 L1293.7 216.2 L1294.9 215.8 L1296.1 215.4 L1297.3 215.1 L1298.5 214.7 L1299.7 214.3 L1300.9 213.9 L1302.1 213.5 L1303.3 213.1 L1304.5 212.8 L1305.7 212.4 L1306.9 212 L1308.1 211.6 L1309.3 211.2 L1310.5 210.8 L1311.7 210.5 L1312.9 210.1 L1314.1 209.7 L1315.3 209.4 L1316.5 209.1 L1317.7 208.8 L1318.9 208.5 L1320.1 208.2 L1321.3 207.9 L1322.5 207.7 L1323.7 207.4 L1324.9 207.2 L1326.1 207 L1327.3 206.8 L1328.5 206.6 L1329.7 206.4 L1330.9 206.2 L1332.1 206 L1333.3 205.9 L1334.5 205.7 L1335.7 205.6 L1336.9 205.4 L1338.1 205.3 L1339.3 205.1 L1340.5 205 L1341.7 204.8 L1342.9 204.7 L1344.1 204.6 L1345.3 204.5 L1346.5 204.3 L1347.7 204.2 L1348.9 204.1 L1350.1 204 L1351.3 203.9 L1352.5 203.8 L1353.7 203.7 L1354.9 203.6 L1356.1 203.5 L1357.3 203.4 L1358.5 203.3 L1359.7 203.3 L1360.9 203.2 L1362.1 203.2 L1363.3 203.1 L1364.5 203.1 L1365.7 203 L1366.9 203 L1368.1 203 L1369.3 203 L1370.5 203 L1371.7 203 L1372.9 203 L1374.1 203.1 L1375.3 203.1 L1376.5 203.2 L1377.7 203.3 L1378.9 203.4 L1380.1 203.5 L1381.3 203.6 L1382.5 203.8 L1383.7 203.9 L1384.9 204.1 L1386.1 204.4 L1387.3 204.6 L1388.5 204.8 L1389.7 205.1 L1390.9 205.3 L1392.1 205.6 L1393.3 205.9 L1394.5 206.1 L1395.7 206.3 L1396.9 206.5 L1398.1 206.7 L1399.3 206.9 L1400.5 207.1 L1401.7 207.2 L1402.9 207.4 L1404.1 207.5 L1405.3 207.6 L1406.5 207.7 L1407.7 207.8 L1408.9 207.9 L1410.1 208 L1411.3 208.1" fill="none" stroke="#000" stroke-width="2.4" stroke-linejoin="round"/>
<path d="M812.7 345.3 L814.7 345.4 L816.7 345.4 L818.7 345.5 L820.7 345.5 L822.7 345.6 L824.7 345.6 L826.7 345.7 L828.7 345.8 L830.7 345.8 L832.7 345.9 L834.7 346 L836.7 346.1 L838.7 346.2 L840.7 346.3 L842.7 346.4 L844.7 346.5 L846.7 346.7 L848.7 346.8 L850.7 346.9 L852.7 347.1 L854.7 347.2 L856.7 347.4 L858.7 347.5 L860.7 347.6 L862.8 347.8 L864.8 347.9 L866.8 348 L868.8 348.1 L870.8 348.2 L872.8 348.2 L874.8 348.3 L876.8 348.3 L878.8 348.3 L880.8 348.3 L882.8 348.2 L884.8 348.2 L886.8 348.1 L888.8 347.9 L890.8 347.8 L892.8 347.6 L894.8 347.3 L896.8 347.1 L898.8 346.8 L900.8 346.4 L902.8 346 L904.8 345.6 L906.8 345.2 L908.8 344.7 L910.8 344.2 L912.8 343.7 L914.8 343.1 L916.8 342.5 L918.8 342 L920.8 341.4 L922.8 340.9 L924.8 340.4 L926.8 340 L928.8 339.6 L930.8 339.3 L932.8 339.2 L934.8 339 L936.8 339 L938.8 339.1 L940.8 339.2 L942.8 339.3 L944.8 339.5 L946.8 339.8 L948.8 340.1 L950.8 340.5 L952.8 340.9 L954.8 341.4 L956.8 341.8 L958.8 342.3 L960.8 342.9 L962.9 343.4 L964.9 344 L966.9 344.5 L968.9 345 L970.9 345.5 L972.9 345.9 L974.9 346.2 L976.9 346.5 L978.9 346.7 L980.9 346.8 L982.9 346.9 L984.9 346.8 L986.9 346.7 L988.9 346.6 L990.9 346.4 L992.9 346.1 L994.9 345.8 L996.9 345.5 L998.9 345.1 L1000.9 344.8 L1002.9 344.3 L1004.9 343.8 L1006.9 343.3 L1008.9 342.8 L1010.9 342.2 L1012.9 341.5 L1014.9 340.9 L1016.9 340.1 L1018.9 339.4 L1020.9 338.6 L1022.9 337.9 L1024.9 337.1 L1026.9 336.3 L1028.9 335.6 L1030.9 334.8 L1032.9 334.1 L1034.9 333.5 L1036.9 332.8 L1038.9 332.3 L1040.9 331.8 L1042.9 331.4 L1044.9 331.1 L1046.9 331 L1048.9 330.9 L1050.9 331 L1052.9 331.1 L1054.9 331.4 L1056.9 331.8 L1058.9 332.2 L1060.9 332.6 L1063 333.1 L1065 333.6 L1067 334 L1069 334.5 L1071 334.9 L1073 335.3 L1075 335.7 L1077 336 L1079 336.4 L1081 336.8 L1083 337.1 L1085 337.5 L1087 337.8 L1089 338.2 L1091 338.5 L1093 338.8 L1095 339.1 L1097 339.5 L1099 339.8 L1101 340.1 L1103 340.4 L1105 340.7 L1107 341 L1109 341.3 L1111 341.6 L1113 341.9 L1115 342.2 L1117 342.5 L1119 342.7 L1121 343 L1123 343.2 L1125 343.4 L1127 343.7 L1129 343.9 L1131 344 L1133 344.2 L1135 344.3 L1137 344.4 L1139 344.5 L1141 344.6 L1143 344.6 L1145 344.6 L1147 344.6 L1149 344.6 L1151 344.6 L1153 344.5 L1155 344.5 L1157 344.4 L1159 344.3 L1161 344.2 L1163.1 344.1 L1165.1 344 L1167.1 343.9 L1169.1 343.9 L1171.1 343.8 L1173.1 343.7 L1175.1 343.6 L1177.1 343.5 L1179.1 343.4 L1181.1 343.3 L1183.1 343.2 L1185.1 343.1 L1187.1 342.9 L1189.1 342.8 L1191.1 342.6 L1193.1 342.4 L1195.1 342.1 L1197.1 341.9 L1199.1 341.6 L1201.1 341.3 L1203.1 340.9 L1205.1 340.6 L1207.1 340.3 L1209.1 340 L1211.1 339.7 L1213.1 339.4 L1215.1 339.2 L1217.1 339 L1219.1 338.9 L1221.1 338.7 L1223.1 338.6 L1225.1 338.5 L1227.1 338.5 L1229.1 338.4 L1231.1 338.4 L1233.1 338.3 L1235.1 338.3 L1237.1 338.3 L1239.1 338.2 L1241.1 338.2 L1243.1 338.2 L1245.1 338.2 L1247.1 338.1 L1249.1 338.1 L1251.1 338.1 L1253.1 338.1 L1255.1 338.1 L1257.1 338.1 L1259.1 338.1 L1261.1 338.2 L1263.2 338.2 L1265.2 338.3 L1267.2 338.4 L1269.2 338.5 L1271.2 338.6 L1273.2 338.7 L1275.2 338.9 L1277.2 339 L1279.2 339.2 L1281.2 339.4 L1283.2 339.6 L1285.2 339.8 L1287.2 340 L1289.2 340.3 L1291.2 340.5 L1293.2 340.7 L1295.2 340.9 L1297.2 341.1 L1299.2 341.3 L1301.2 341.5 L1303.2 341.7 L1305.2 341.9 L1307.2 342.1 L1309.2 342.3 L1311.2 342.4 L1313.2 342.6 L1315.2 342.7 L1317.2 342.9 L1319.2 343 L1321.2 343.1 L1323.2 343.2 L1325.2 343.3 L1327.2 343.4 L1329.2 343.6 L1331.2 343.6 L1333.2 343.7 L1335.2 343.8 L1337.2 343.9 L1339.2 344 L1341.2 344.1 L1343.2 344.1 L1345.2 344.2 L1347.2 344.3 L1349.2 344.3 L1351.2 344.3 L1353.2 344.4 L1355.2 344.4 L1357.2 344.5 L1359.2 344.5 L1361.2 344.5 L1363.3 344.5 L1365.3 344.5 L1367.3 344.5 L1369.3 344.5 L1371.3 344.5 L1373.3 344.5 L1375.3 344.4 L1377.3 344.4 L1379.3 344.4 L1381.3 344.3 L1383.3 344.3 L1385.3 344.2 L1387.3 344.2 L1389.3 344.1 L1391.3 344 L1393.3 344 L1395.3 343.9 L1397.3 343.8 L1399.3 343.8 L1401.3 343.7 L1403.3 343.6 L1405.3 343.5 L1407.3 343.5 L1409.3 343.4 L1411.3 343.3" fill="none" stroke="#e8212b" stroke-width="1.9" stroke-linejoin="round"/>
<path d="M812.7 470.9 L814.7 471 L816.7 471.1 L818.7 471.2 L820.7 471.2 L822.7 471.3 L824.7 471.4 L826.7 471.5 L828.7 471.6 L830.7 471.6 L832.7 471.7 L834.7 471.8 L836.7 471.9 L838.7 471.9 L840.7 472 L842.7 472.1 L844.7 472.1 L846.7 472.2 L848.7 472.2 L850.7 472.3 L852.7 472.3 L854.7 472.4 L856.7 472.5 L858.7 472.5 L860.7 472.6 L862.8 472.7 L864.8 472.8 L866.8 473 L868.8 473.1 L870.8 473.3 L872.8 473.5 L874.8 473.7 L876.8 474 L878.8 474.3 L880.8 474.5 L882.8 474.8 L884.8 475.1 L886.8 475.4 L888.8 475.7 L890.8 475.9 L892.8 476.2 L894.8 476.4 L896.8 476.6 L898.8 476.7 L900.8 476.8 L902.8 476.9 L904.8 476.9 L906.8 476.8 L908.8 476.7 L910.8 476.5 L912.8 476.3 L914.8 475.9 L916.8 475.5 L918.8 475 L920.8 474.5 L922.8 473.9 L924.8 473.2 L926.8 472.6 L928.8 472 L930.8 471.5 L932.8 471.1 L934.8 470.9 L936.8 470.7 L938.8 470.6 L940.8 470.6 L942.8 470.7 L944.8 470.8 L946.8 471 L948.8 471.2 L950.8 471.5 L952.8 471.8 L954.8 472 L956.8 472.3 L958.8 472.6 L960.8 472.8 L962.9 473.2 L964.9 473.5 L966.9 473.9 L968.9 474.3 L970.9 474.8 L972.9 475.4 L974.9 475.9 L976.9 476.5 L978.9 477.1 L980.9 477.6 L982.9 478.1 L984.9 478.5 L986.9 478.8 L988.9 478.9 L990.9 478.9 L992.9 478.8 L994.9 478.5 L996.9 478.2 L998.9 477.9 L1000.9 477.5 L1002.9 477.1 L1004.9 476.7 L1006.9 476.4 L1008.9 476.1 L1010.9 475.9 L1012.9 475.7 L1014.9 475.5 L1016.9 475.4 L1018.9 475.2 L1020.9 474.9 L1022.9 474.7 L1024.9 474.3 L1026.9 473.9 L1028.9 473.5 L1030.9 473 L1032.9 472.5 L1034.9 471.9 L1036.9 471.4 L1038.9 470.9 L1040.9 470.4 L1042.9 470 L1044.9 469.6 L1046.9 469.2 L1048.9 468.9 L1050.9 468.7 L1052.9 468.4 L1054.9 468.3 L1056.9 468.1 L1058.9 468 L1060.9 468 L1063 468 L1065 468 L1067 468.1 L1069 468.3 L1071 468.4 L1073 468.6 L1075 468.8 L1077 469 L1079 469.2 L1081 469.5 L1083 469.7 L1085 470 L1087 470.2 L1089 470.5 L1091 470.8 L1093 471 L1095 471.3 L1097 471.5 L1099 471.8 L1101 472 L1103 472.3 L1105 472.5 L1107 472.8 L1109 473 L1111 473.2 L1113 473.4 L1115 473.6 L1117 473.7 L1119 473.9 L1121 474.1 L1123 474.2 L1125 474.4 L1127 474.5 L1129 474.6 L1131 474.8 L1133 474.9 L1135 475.1 L1137 475.2 L1139 475.3 L1141 475.5 L1143 475.6 L1145 475.7 L1147 475.9 L1149 476 L1151 476.1 L1153 476.2 L1155 476.3 L1157 476.4 L1159 476.4 L1161 476.5 L1163.1 476.5 L1165.1 476.5 L1167.1 476.5 L1169.1 476.5 L1171.1 476.4 L1173.1 476.4 L1175.1 476.3 L1177.1 476.2 L1179.1 476.1 L1181.1 476 L1183.1 475.9 L1185.1 475.7 L1187.1 475.6 L1189.1 475.5 L1191.1 475.3 L1193.1 475.2 L1195.1 475 L1197.1 474.8 L1199.1 474.7 L1201.1 474.5 L1203.1 474.4 L1205.1 474.2 L1207.1 474 L1209.1 473.9 L1211.1 473.7 L1213.1 473.6 L1215.1 473.4 L1217.1 473.3 L1219.1 473.2 L1221.1 473 L1223.1 472.9 L1225.1 472.8 L1227.1 472.7 L1229.1 472.6 L1231.1 472.5 L1233.1 472.4 L1235.1 472.3 L1237.1 472.2 L1239.1 472.2 L1241.1 472.1 L1243.1 472.1 L1245.1 472.1 L1247.1 472 L1249.1 472 L1251.1 472 L1253.1 472.1 L1255.1 472.1 L1257.1 472.1 L1259.1 472.2 L1261.1 472.2 L1263.2 472.3 L1265.2 472.4 L1267.2 472.5 L1269.2 472.6 L1271.2 472.7 L1273.2 472.8 L1275.2 472.9 L1277.2 473.1 L1279.2 473.2 L1281.2 473.4 L1283.2 473.5 L1285.2 473.6 L1287.2 473.8 L1289.2 474 L1291.2 474.1 L1293.2 474.3 L1295.2 474.4 L1297.2 474.6 L1299.2 474.7 L1301.2 474.8 L1303.2 475 L1305.2 475.1 L1307.2 475.2 L1309.2 475.3 L1311.2 475.4 L1313.2 475.5 L1315.2 475.6 L1317.2 475.7 L1319.2 475.8 L1321.2 475.9 L1323.2 476 L1325.2 476 L1327.2 476.1 L1329.2 476.2 L1331.2 476.2 L1333.2 476.3 L1335.2 476.3 L1337.2 476.4 L1339.2 476.4 L1341.2 476.5 L1343.2 476.5 L1345.2 476.5 L1347.2 476.6 L1349.2 476.6 L1351.2 476.6 L1353.2 476.6 L1355.2 476.6 L1357.2 476.6 L1359.2 476.6 L1361.2 476.6 L1363.3 476.6 L1365.3 476.6 L1367.3 476.6 L1369.3 476.6 L1371.3 476.6 L1373.3 476.5 L1375.3 476.5 L1377.3 476.4 L1379.3 476.4 L1381.3 476.4 L1383.3 476.3 L1385.3 476.2 L1387.3 476.2 L1389.3 476.1 L1391.3 476.1 L1393.3 476 L1395.3 475.9 L1397.3 475.8 L1399.3 475.8 L1401.3 475.7 L1403.3 475.6 L1405.3 475.5 L1407.3 475.5 L1409.3 475.4 L1411.3 475.3" fill="none" stroke="#1414d2" stroke-width="1.9" stroke-linejoin="round"/>
<path d="M812.7 608 L814.7 607.9 L816.7 607.8 L818.7 607.7 L820.7 607.6 L822.7 607.5 L824.7 607.4 L826.7 607.3 L828.7 607.2 L830.7 607.1 L832.7 607.1 L834.7 607 L836.7 606.9 L838.7 606.8 L840.7 606.7 L842.7 606.6 L844.7 606.5 L846.7 606.4 L848.7 606.3 L850.7 606.2 L852.7 606.1 L854.7 606 L856.7 605.9 L858.7 605.9 L860.7 605.8 L862.8 605.7 L864.8 605.7 L866.8 605.7 L868.8 605.6 L870.8 605.6 L872.8 605.6 L874.8 605.6 L876.8 605.7 L878.8 605.7 L880.8 605.8 L882.8 605.9 L884.8 606 L886.8 606.1 L888.8 606.3 L890.8 606.5 L892.8 606.7 L894.8 606.9 L896.8 607.2 L898.8 607.5 L900.8 607.8 L902.8 608.2 L904.8 608.6 L906.8 609 L908.8 609.5 L910.8 610 L912.8 610.6 L914.8 611.2 L916.8 611.8 L918.8 612.3 L920.8 612.8 L922.8 613.1 L924.8 613.2 L926.8 613.2 L928.8 613.1 L930.8 612.9 L932.8 612.6 L934.8 612.2 L936.8 611.8 L938.8 611.4 L940.8 611 L942.8 610.6 L944.8 610.1 L946.8 609.7 L948.8 609.3 L950.8 608.8 L952.8 608.4 L954.8 607.9 L956.8 607.5 L958.8 607.1 L960.8 606.6 L962.9 606.3 L964.9 605.9 L966.9 605.6 L968.9 605.3 L970.9 605.1 L972.9 604.9 L974.9 604.7 L976.9 604.6 L978.9 604.5 L980.9 604.4 L982.9 604.4 L984.9 604.3 L986.9 604.3 L988.9 604.3 L990.9 604.4 L992.9 604.4 L994.9 604.5 L996.9 604.6 L998.9 604.6 L1000.9 604.7 L1002.9 604.8 L1004.9 604.9 L1006.9 605 L1008.9 605.1 L1010.9 605.2 L1012.9 605.3 L1014.9 605.4 L1016.9 605.5 L1018.9 605.5 L1020.9 605.5 L1022.9 605.5 L1024.9 605.4 L1026.9 605.3 L1028.9 605.1 L1030.9 605 L1032.9 604.8 L1034.9 604.6 L1036.9 604.4 L1038.9 604.2 L1040.9 604 L1042.9 603.9 L1044.9 603.8 L1046.9 603.8 L1048.9 603.9 L1050.9 604 L1052.9 604.1 L1054.9 604.2 L1056.9 604.4 L1058.9 604.6 L1060.9 604.8 L1063 605.1 L1065 605.3 L1067 605.5 L1069 605.7 L1071 606 L1073 606.2 L1075 606.4 L1077 606.6 L1079 606.8 L1081 607 L1083 607.2 L1085 607.4 L1087 607.6 L1089 607.7 L1091 607.9 L1093 608 L1095 608.1 L1097 608.2 L1099 608.2 L1101 608.3 L1103 608.3 L1105 608.4 L1107 608.4 L1109 608.4 L1111 608.4 L1113 608.4 L1115 608.4 L1117 608.4 L1119 608.4 L1121 608.4 L1123 608.4 L1125 608.3 L1127 608.3 L1129 608.2 L1131 608.2 L1133 608.1 L1135 608.1 L1137 608 L1139 608 L1141 607.9 L1143 607.9 L1145 607.9 L1147 607.8 L1149 607.8 L1151 607.7 L1153 607.7 L1155 607.7 L1157 607.7 L1159 607.6 L1161 607.6 L1163.1 607.6 L1165.1 607.6 L1167.1 607.6 L1169.1 607.6 L1171.1 607.6 L1173.1 607.7 L1175.1 607.7 L1177.1 607.7 L1179.1 607.7 L1181.1 607.7 L1183.1 607.7 L1185.1 607.8 L1187.1 607.8 L1189.1 607.8 L1191.1 607.8 L1193.1 607.9 L1195.1 607.9 L1197.1 607.9 L1199.1 607.9 L1201.1 607.9 L1203.1 608 L1205.1 608 L1207.1 608 L1209.1 608 L1211.1 608 L1213.1 608 L1215.1 608 L1217.1 608 L1219.1 608 L1221.1 608 L1223.1 608 L1225.1 607.9 L1227.1 607.9 L1229.1 607.9 L1231.1 607.9 L1233.1 607.8 L1235.1 607.8 L1237.1 607.8 L1239.1 607.7 L1241.1 607.7 L1243.1 607.6 L1245.1 607.6 L1247.1 607.5 L1249.1 607.5 L1251.1 607.4 L1253.1 607.4 L1255.1 607.3 L1257.1 607.3 L1259.1 607.2 L1261.1 607.1 L1263.2 607.1 L1265.2 607 L1267.2 606.9 L1269.2 606.9 L1271.2 606.8 L1273.2 606.7 L1275.2 606.7 L1277.2 606.6 L1279.2 606.5 L1281.2 606.4 L1283.2 606.4 L1285.2 606.3 L1287.2 606.2 L1289.2 606.1 L1291.2 606.1 L1293.2 606 L1295.2 605.9 L1297.2 605.8 L1299.2 605.8 L1301.2 605.7 L1303.2 605.6 L1305.2 605.6 L1307.2 605.5 L1309.2 605.5 L1311.2 605.4 L1313.2 605.4 L1315.2 605.3 L1317.2 605.3 L1319.2 605.2 L1321.2 605.2 L1323.2 605.2 L1325.2 605.2 L1327.2 605.1 L1329.2 605.1 L1331.2 605.1 L1333.2 605.2 L1335.2 605.2 L1337.2 605.2 L1339.2 605.3 L1341.2 605.3 L1343.2 605.4 L1345.2 605.5 L1347.2 605.6 L1349.2 605.7 L1351.2 605.8 L1353.2 605.9 L1355.2 606.1 L1357.2 606.2 L1359.2 606.4 L1361.2 606.5 L1363.3 606.7 L1365.3 606.8 L1367.3 607 L1369.3 607.1 L1371.3 607.2 L1373.3 607.3 L1375.3 607.4 L1377.3 607.5 L1379.3 607.6 L1381.3 607.6 L1383.3 607.6 L1385.3 607.7 L1387.3 607.7 L1389.3 607.7 L1391.3 607.6 L1393.3 607.6 L1395.3 607.6 L1397.3 607.5 L1399.3 607.5 L1401.3 607.4 L1403.3 607.4 L1405.3 607.3 L1407.3 607.2 L1409.3 607.2 L1411.3 607.1" fill="none" stroke="#157f80" stroke-width="1.9" stroke-linejoin="round"/>
<rect x="812.7" y="98.6" width="598.6" height="554.4" fill="none" stroke="#000" stroke-width="2"/>
<line x1="812.7" x2="812.7" y1="653" y2="662.5" stroke="#000" stroke-width="2"/>
<line x1="867.1" x2="867.1" y1="653" y2="658.5" stroke="#000" stroke-width="2"/>
<text x="812.7" y="695.1" font-size="36" text-anchor="middle">1</text>
<line x1="921.5" x2="921.5" y1="653" y2="662.5" stroke="#000" stroke-width="2"/>
<line x1="975.9" x2="975.9" y1="653" y2="658.5" stroke="#000" stroke-width="2"/>
<text x="921.5" y="695.1" font-size="36" text-anchor="middle">2</text>
<line x1="1030.4" x2="1030.4" y1="653" y2="662.5" stroke="#000" stroke-width="2"/>
<line x1="1084.8" x2="1084.8" y1="653" y2="658.5" stroke="#000" stroke-width="2"/>
<text x="1030.4" y="695.1" font-size="36" text-anchor="middle">3</text>
<line x1="1139.2" x2="1139.2" y1="653" y2="662.5" stroke="#000" stroke-width="2"/>
<line x1="1193.6" x2="1193.6" y1="653" y2="658.5" stroke="#000" stroke-width="2"/>
<text x="1139.2" y="695.1" font-size="36" text-anchor="middle">4</text>
<line x1="1248" x2="1248" y1="653" y2="662.5" stroke="#000" stroke-width="2"/>
<line x1="1302.4" x2="1302.4" y1="653" y2="658.5" stroke="#000" stroke-width="2"/>
<text x="1248" y="695.1" font-size="36" text-anchor="middle">5</text>
<line x1="1356.8" x2="1356.8" y1="653" y2="662.5" stroke="#000" stroke-width="2"/>
<line x1="1411.3" x2="1411.3" y1="653" y2="658.5" stroke="#000" stroke-width="2"/>
<text x="1356.8" y="695.1" font-size="36" text-anchor="middle">6</text>
<text transform="translate(788 376) rotate(-90)" font-size="38" text-anchor="middle">Amplitude (a.u.)</text>
<text x="1115.4" y="758.8" font-size="39.3" text-anchor="middle"><tspan class="i">q</tspan> (Å<tspan font-size="25" dy="-11">-1</tspan><tspan dy="11">)</tspan></text>
<text x="755.2" y="165" font-size="51.5" text-anchor="start" stroke="#000" stroke-width="0.5">b</text>
<text x="1203.3" y="187.8" font-size="38.5">1<tspan font-size="24" dy="-12.8" dx="1.2">st</tspan><tspan dy="12.8" dx="0.3"> lSV</tspan><tspan dx="14">×</tspan><tspan dx="3">s</tspan><tspan font-size="25" dy="9.2" dx="0.5">1</tspan></text>
<text x="1194.6" y="319.3" font-size="38.5">2<tspan font-size="24" dy="-12.8" dx="1.2">nd</tspan><tspan dy="12.8" dx="0.3"> lSV</tspan><tspan dx="14">×</tspan><tspan dx="3">s</tspan><tspan font-size="25" dy="9.2" dx="0.5">2</tspan></text>
<text x="1201.5" y="458.4" font-size="38.5">3<tspan font-size="24" dy="-12.8" dx="1.2">rd</tspan><tspan dy="12.8" dx="0.3"> lSV</tspan><tspan dx="14">×</tspan><tspan dx="3">s</tspan><tspan font-size="25" dy="9.2" dx="0.5">3</tspan></text>
<text x="1202.6" y="593.5" font-size="38.5">4<tspan font-size="24" dy="-12.8" dx="1.2">th</tspan><tspan dy="12.8" dx="0.3"> lSV</tspan><tspan dx="14">×</tspan><tspan dx="3">s</tspan><tspan font-size="25" dy="9.2" dx="0.5">4</tspan></text>
<g clip-path="url(#cc)">
<g fill="#fff" stroke="#000000" stroke-width="2.2"><circle cx="1502.8" cy="308.8" r="5.4"/><circle cx="1507.8" cy="300.3" r="5.4"/><circle cx="1512.8" cy="308.1" r="5.4"/><circle cx="1517.8" cy="314.5" r="5.4"/><circle cx="1522.8" cy="303.8" r="5.4"/><circle cx="1527.8" cy="305.2" r="5.4"/><circle cx="1532.8" cy="302.6" r="5.4"/><circle cx="1537.8" cy="307.1" r="5.4"/><circle cx="1542.8" cy="300.7" r="5.4"/><circle cx="1547.8" cy="298.4" r="5.4"/><circle cx="1552.8" cy="295.5" r="5.4"/><circle cx="1557.8" cy="296.4" r="5.4"/><circle cx="1562.8" cy="292.6" r="5.4"/><circle cx="1567.8" cy="291" r="5.4"/><circle cx="1572.8" cy="285.8" r="5.4"/><circle cx="1577.8" cy="278" r="5.4"/><circle cx="1582.8" cy="276.1" r="5.4"/><circle cx="1587.8" cy="279" r="5.4"/><circle cx="1592.8" cy="264.4" r="5.4"/><circle cx="1597.8" cy="256.7" r="5.4"/><circle cx="1602.8" cy="255.7" r="5.4"/><circle cx="1607.8" cy="254.7" r="5.4"/><circle cx="1612.8" cy="247" r="5.4"/><circle cx="1617.8" cy="243.7" r="5.4"/><circle cx="1622.8" cy="237.2" r="5.4"/><circle cx="1627.8" cy="233.4" r="5.4"/><circle cx="1632.8" cy="225" r="5.4"/><circle cx="1637.8" cy="229.5" r="5.4"/><circle cx="1642.8" cy="225.6" r="5.4"/><circle cx="1647.8" cy="214.5" r="5.4"/><circle cx="1652.8" cy="216.9" r="5.4"/><circle cx="1657.8" cy="210.7" r="5.4"/><circle cx="1662.8" cy="217.8" r="5.4"/><circle cx="1667.8" cy="210.7" r="5.4"/><circle cx="1672.8" cy="208.7" r="5.4"/><circle cx="1677.8" cy="204.3" r="5.4"/><circle cx="1682.8" cy="211.4" r="5.4"/><circle cx="1687.8" cy="200.4" r="5.4"/><circle cx="1692.8" cy="201.7" r="5.4"/><circle cx="1697.8" cy="193.2" r="5.4"/><circle cx="1702.8" cy="190.1" r="5.4"/><circle cx="1707.8" cy="191" r="5.4"/><circle cx="1712.8" cy="189.1" r="5.4"/><circle cx="1717.8" cy="191" r="5.4"/><circle cx="1722.8" cy="180.4" r="5.4"/><circle cx="1727.8" cy="185.8" r="5.4"/><circle cx="1732.8" cy="179.4" r="5.4"/><circle cx="1737.8" cy="178.4" r="5.4"/><circle cx="1742.8" cy="171.7" r="5.4"/><circle cx="1747.8" cy="173.6" r="5.4"/><circle cx="1752.8" cy="176.1" r="5.4"/><circle cx="1757.8" cy="170.3" r="5.4"/><circle cx="1762.8" cy="167.8" r="5.4"/><circle cx="1767.8" cy="170.7" r="5.4"/><circle cx="1772.8" cy="163.9" r="5.4"/><circle cx="1777.8" cy="166.4" r="5.4"/><circle cx="1782.8" cy="161" r="5.4"/><circle cx="1787.8" cy="165.8" r="5.4"/><circle cx="1792.8" cy="157.5" r="5.4"/><circle cx="1797.8" cy="162.9" r="5.4"/><circle cx="1802.8" cy="160" r="5.4"/><circle cx="1807.8" cy="162.9" r="5.4"/><circle cx="1812.8" cy="164.5" r="5.4"/><circle cx="1817.8" cy="157.5" r="5.4"/><circle cx="1822.8" cy="154.2" r="5.4"/><circle cx="1827.8" cy="152.2" r="5.4"/><circle cx="1832.8" cy="151.3" r="5.4"/><circle cx="1837.8" cy="154.2" r="5.4"/><circle cx="1842.8" cy="162.9" r="5.4"/><circle cx="1847.8" cy="150.3" r="5.4"/><circle cx="1852.8" cy="155.2" r="5.4"/><circle cx="1857.8" cy="154.2" r="5.4"/><circle cx="1862.8" cy="150.3" r="5.4"/><circle cx="1867.8" cy="148.4" r="5.4"/><circle cx="1872.8" cy="152.2" r="5.4"/><circle cx="1877.8" cy="145.1" r="5.4"/><circle cx="1882.8" cy="150.3" r="5.4"/><circle cx="1887.8" cy="153.2" r="5.4"/><circle cx="1892.8" cy="150.3" r="5.4"/><circle cx="1897.8" cy="147.4" r="5.4"/><circle cx="1902.8" cy="145.1" r="5.4"/><circle cx="1907.8" cy="141.2" r="5.4"/><circle cx="1912.8" cy="153.2" r="5.4"/><circle cx="1917.8" cy="147" r="5.4"/><circle cx="1922.8" cy="141.6" r="5.4"/><circle cx="1927.8" cy="145.8" r="5.4"/><circle cx="1932.8" cy="154.2" r="5.4"/><circle cx="1937.8" cy="143.5" r="5.4"/><circle cx="1942.8" cy="147.4" r="5.4"/><circle cx="1947.8" cy="147.4" r="5.4"/><circle cx="1952.8" cy="146.4" r="5.4"/><circle cx="1957.8" cy="138.7" r="5.4"/><circle cx="1962.8" cy="151.7" r="5.4"/><circle cx="1967.8" cy="141.6" r="5.4"/><circle cx="1972.8" cy="140.6" r="5.4"/><circle cx="1977.8" cy="143.5" r="5.4"/><circle cx="1982.8" cy="145.5" r="5.4"/><circle cx="1987.8" cy="133.8" r="5.4"/><circle cx="1992.8" cy="141.6" r="5.4"/><circle cx="1997.8" cy="143.5" r="5.4"/><circle cx="2002.8" cy="141.6" r="5.4"/><circle cx="2007.8" cy="134.8" r="5.4"/><circle cx="2012.8" cy="137.7" r="5.4"/><circle cx="2017.8" cy="133.8" r="5.4"/><circle cx="2022.8" cy="146.4" r="5.4"/><circle cx="2027.8" cy="136.7" r="5.4"/><circle cx="2032.8" cy="135.8" r="5.4"/><circle cx="2037.8" cy="142.5" r="5.4"/><circle cx="2042.8" cy="129.9" r="5.4"/><circle cx="2047.8" cy="125.1" r="5.4"/><circle cx="2052.8" cy="129" r="5.4"/><circle cx="2057.8" cy="143.9" r="5.4"/><circle cx="2062.8" cy="132.8" r="5.4"/><circle cx="2067.8" cy="127" r="5.4"/><circle cx="2072.8" cy="124.1" r="5.4"/><circle cx="2077.8" cy="126" r="5.4"/><circle cx="2082.8" cy="145.1" r="5.4"/><circle cx="2087.8" cy="136.7" r="5.4"/><circle cx="2092.8" cy="133.8" r="5.4"/><circle cx="2097.8" cy="128" r="5.4"/><circle cx="2102.8" cy="133.8" r="5.4"/></g>
<line x1="1505.8" x2="2103" y1="305.4" y2="305.4" stroke="#000" stroke-width="1.45" stroke-dasharray="7.3 5.3"/>
<g fill="#fff" stroke="#e00f1e" stroke-width="2.2"><circle cx="1502.8" cy="424.5" r="5.4"/><circle cx="1507.8" cy="414.4" r="5.4"/><circle cx="1512.8" cy="429.9" r="5.4"/><circle cx="1517.8" cy="443.6" r="5.4"/><circle cx="1522.8" cy="426.8" r="5.4"/><circle cx="1527.8" cy="418.3" r="5.4"/><circle cx="1532.8" cy="419.8" r="5.4"/><circle cx="1537.8" cy="422.9" r="5.4"/><circle cx="1542.8" cy="431.5" r="5.4"/><circle cx="1547.8" cy="420.6" r="5.4"/><circle cx="1552.8" cy="419.8" r="5.4"/><circle cx="1557.8" cy="420.6" r="5.4"/><circle cx="1562.8" cy="424.5" r="5.4"/><circle cx="1567.8" cy="427.6" r="5.4"/><circle cx="1572.8" cy="419.5" r="5.4"/><circle cx="1577.8" cy="410.5" r="5.4"/><circle cx="1582.8" cy="412.1" r="5.4"/><circle cx="1587.8" cy="426.1" r="5.4"/><circle cx="1592.8" cy="415.2" r="5.4"/><circle cx="1597.8" cy="417.5" r="5.4"/><circle cx="1602.8" cy="434.6" r="5.4"/><circle cx="1607.8" cy="420.6" r="5.4"/><circle cx="1612.8" cy="417.5" r="5.4"/><circle cx="1617.8" cy="421.4" r="5.4"/><circle cx="1622.8" cy="426.8" r="5.4"/><circle cx="1627.8" cy="427.6" r="5.4"/><circle cx="1632.8" cy="411" r="5.4"/><circle cx="1637.8" cy="422.2" r="5.4"/><circle cx="1642.8" cy="436.1" r="5.4"/><circle cx="1647.8" cy="418.3" r="5.4"/><circle cx="1652.8" cy="425.3" r="5.4"/><circle cx="1657.8" cy="420.6" r="5.4"/><circle cx="1662.8" cy="429.9" r="5.4"/><circle cx="1667.8" cy="422.9" r="5.4"/><circle cx="1672.8" cy="420.6" r="5.4"/><circle cx="1677.8" cy="426.8" r="5.4"/><circle cx="1682.8" cy="433.8" r="5.4"/><circle cx="1687.8" cy="432.3" r="5.4"/><circle cx="1692.8" cy="428.4" r="5.4"/><circle cx="1697.8" cy="408.7" r="5.4"/><circle cx="1702.8" cy="421.4" r="5.4"/><circle cx="1707.8" cy="431.9" r="5.4"/><circle cx="1712.8" cy="412.1" r="5.4"/><circle cx="1717.8" cy="431" r="5.4"/><circle cx="1722.8" cy="409.8" r="5.4"/><circle cx="1727.8" cy="418.3" r="5.4"/><circle cx="1732.8" cy="412.1" r="5.4"/><circle cx="1737.8" cy="415.2" r="5.4"/><circle cx="1742.8" cy="407.4" r="5.4"/><circle cx="1747.8" cy="412.1" r="5.4"/><circle cx="1752.8" cy="409.8" r="5.4"/><circle cx="1757.8" cy="400.4" r="5.4"/><circle cx="1762.8" cy="402.8" r="5.4"/><circle cx="1767.8" cy="402.8" r="5.4"/><circle cx="1772.8" cy="411.3" r="5.4"/><circle cx="1777.8" cy="422.2" r="5.4"/><circle cx="1782.8" cy="412.9" r="5.4"/><circle cx="1787.8" cy="407.4" r="5.4"/><circle cx="1792.8" cy="410.5" r="5.4"/><circle cx="1797.8" cy="398.9" r="5.4"/><circle cx="1802.8" cy="402" r="5.4"/><circle cx="1807.8" cy="405.9" r="5.4"/><circle cx="1812.8" cy="411.3" r="5.4"/><circle cx="1817.8" cy="414.4" r="5.4"/><circle cx="1822.8" cy="405.1" r="5.4"/><circle cx="1827.8" cy="406.7" r="5.4"/><circle cx="1832.8" cy="404.3" r="5.4"/><circle cx="1837.8" cy="403.5" r="5.4"/><circle cx="1842.8" cy="422.9" r="5.4"/><circle cx="1847.8" cy="406.7" r="5.4"/><circle cx="1852.8" cy="412.9" r="5.4"/><circle cx="1857.8" cy="415.2" r="5.4"/><circle cx="1862.8" cy="409.8" r="5.4"/><circle cx="1867.8" cy="413.6" r="5.4"/><circle cx="1872.8" cy="419.1" r="5.4"/><circle cx="1877.8" cy="410.5" r="5.4"/><circle cx="1882.8" cy="418.3" r="5.4"/><circle cx="1887.8" cy="413.6" r="5.4"/><circle cx="1892.8" cy="422.2" r="5.4"/><circle cx="1897.8" cy="412.9" r="5.4"/><circle cx="1902.8" cy="412.9" r="5.4"/><circle cx="1907.8" cy="415.2" r="5.4"/><circle cx="1912.8" cy="422.2" r="5.4"/><circle cx="1917.8" cy="420.6" r="5.4"/><circle cx="1922.8" cy="411.3" r="5.4"/><circle cx="1927.8" cy="411.3" r="5.4"/><circle cx="1932.8" cy="436.1" r="5.4"/><circle cx="1937.8" cy="411.3" r="5.4"/><circle cx="1942.8" cy="420.6" r="5.4"/><circle cx="1947.8" cy="419.8" r="5.4"/><circle cx="1952.8" cy="407.4" r="5.4"/><circle cx="1957.8" cy="412.1" r="5.4"/><circle cx="1962.8" cy="416" r="5.4"/><circle cx="1967.8" cy="415.2" r="5.4"/><circle cx="1972.8" cy="401.2" r="5.4"/><circle cx="1977.8" cy="416" r="5.4"/><circle cx="1982.8" cy="411.3" r="5.4"/><circle cx="1987.8" cy="388.8" r="5.4"/><circle cx="1992.8" cy="411.3" r="5.4"/><circle cx="1997.8" cy="419.8" r="5.4"/><circle cx="2002.8" cy="416.7" r="5.4"/><circle cx="2007.8" cy="398.1" r="5.4"/><circle cx="2012.8" cy="411.3" r="5.4"/><circle cx="2017.8" cy="392.7" r="5.4"/><circle cx="2022.8" cy="424.5" r="5.4"/><circle cx="2027.8" cy="395" r="5.4"/><circle cx="2032.8" cy="398.1" r="5.4"/><circle cx="2037.8" cy="405.1" r="5.4"/><circle cx="2042.8" cy="395.8" r="5.4"/><circle cx="2047.8" cy="385.7" r="5.4"/><circle cx="2052.8" cy="377.9" r="5.4"/><circle cx="2057.8" cy="405.1" r="5.4"/><circle cx="2062.8" cy="395.8" r="5.4"/><circle cx="2067.8" cy="394.2" r="5.4"/><circle cx="2072.8" cy="381.8" r="5.4"/><circle cx="2077.8" cy="389.6" r="5.4"/><circle cx="2082.8" cy="425.3" r="5.4"/><circle cx="2087.8" cy="391.1" r="5.4"/><circle cx="2092.8" cy="385.7" r="5.4"/><circle cx="2097.8" cy="389.6" r="5.4"/><circle cx="2102.8" cy="393.5" r="5.4"/></g>
<line x1="1505.8" x2="2103" y1="411.6" y2="411.6" stroke="#000" stroke-width="1.45" stroke-dasharray="7.3 5.3"/>
<g fill="#fff" stroke="#0c0cc8" stroke-width="2.2"><circle cx="1507.8" cy="515.1" r="5.4"/><circle cx="1512.8" cy="508.1" r="5.4"/><circle cx="1517.8" cy="519.8" r="5.4"/><circle cx="1522.8" cy="504.2" r="5.4"/><circle cx="1527.8" cy="514.3" r="5.4"/><circle cx="1532.8" cy="516.7" r="5.4"/><circle cx="1537.8" cy="521.3" r="5.4"/><circle cx="1542.8" cy="506.6" r="5.4"/><circle cx="1547.8" cy="520.5" r="5.4"/><circle cx="1552.8" cy="519.8" r="5.4"/><circle cx="1557.8" cy="525.2" r="5.4"/><circle cx="1562.8" cy="527.5" r="5.4"/><circle cx="1567.8" cy="524.4" r="5.4"/><circle cx="1572.8" cy="526.7" r="5.4"/><circle cx="1577.8" cy="531.4" r="5.4"/><circle cx="1582.8" cy="534.5" r="5.4"/><circle cx="1587.8" cy="532.9" r="5.4"/><circle cx="1592.8" cy="528.3" r="5.4"/><circle cx="1597.8" cy="526" r="5.4"/><circle cx="1602.8" cy="520.5" r="5.4"/><circle cx="1607.8" cy="525.2" r="5.4"/><circle cx="1612.8" cy="523.6" r="5.4"/><circle cx="1617.8" cy="525.2" r="5.4"/><circle cx="1622.8" cy="526" r="5.4"/><circle cx="1627.8" cy="530.6" r="5.4"/><circle cx="1632.8" cy="523.6" r="5.4"/><circle cx="1637.8" cy="526" r="5.4"/><circle cx="1642.8" cy="519" r="5.4"/><circle cx="1647.8" cy="520.5" r="5.4"/><circle cx="1652.8" cy="517.4" r="5.4"/><circle cx="1657.8" cy="521.3" r="5.4"/><circle cx="1662.8" cy="509.7" r="5.4"/><circle cx="1667.8" cy="513.5" r="5.4"/><circle cx="1672.8" cy="514.3" r="5.4"/><circle cx="1677.8" cy="514.3" r="5.4"/><circle cx="1682.8" cy="519.8" r="5.4"/><circle cx="1687.8" cy="513.5" r="5.4"/><circle cx="1692.8" cy="514.3" r="5.4"/><circle cx="1697.8" cy="522.9" r="5.4"/><circle cx="1702.8" cy="521.3" r="5.4"/><circle cx="1707.8" cy="505.8" r="5.4"/><circle cx="1712.8" cy="519.8" r="5.4"/><circle cx="1717.8" cy="503.5" r="5.4"/><circle cx="1722.8" cy="519" r="5.4"/><circle cx="1727.8" cy="504.2" r="5.4"/><circle cx="1732.8" cy="521.3" r="5.4"/><circle cx="1737.8" cy="515.1" r="5.4"/><circle cx="1742.8" cy="509.7" r="5.4"/><circle cx="1747.8" cy="512.8" r="5.4"/><circle cx="1752.8" cy="512" r="5.4"/><circle cx="1757.8" cy="518.2" r="5.4"/><circle cx="1762.8" cy="518.2" r="5.4"/><circle cx="1767.8" cy="513.5" r="5.4"/><circle cx="1772.8" cy="511.2" r="5.4"/><circle cx="1777.8" cy="506.6" r="5.4"/><circle cx="1782.8" cy="506.6" r="5.4"/><circle cx="1787.8" cy="514.3" r="5.4"/><circle cx="1792.8" cy="512.8" r="5.4"/><circle cx="1797.8" cy="514.3" r="5.4"/><circle cx="1802.8" cy="514.3" r="5.4"/><circle cx="1807.8" cy="519.8" r="5.4"/><circle cx="1812.8" cy="522.9" r="5.4"/><circle cx="1817.8" cy="504.2" r="5.4"/><circle cx="1822.8" cy="515.1" r="5.4"/><circle cx="1827.8" cy="514.3" r="5.4"/><circle cx="1832.8" cy="517.4" r="5.4"/><circle cx="1837.8" cy="505.8" r="5.4"/><circle cx="1842.8" cy="517.4" r="5.4"/><circle cx="1847.8" cy="510.4" r="5.4"/><circle cx="1852.8" cy="512.8" r="5.4"/><circle cx="1857.8" cy="515.1" r="5.4"/><circle cx="1862.8" cy="512" r="5.4"/><circle cx="1867.8" cy="515.9" r="5.4"/><circle cx="1872.8" cy="513.5" r="5.4"/><circle cx="1877.8" cy="521.3" r="5.4"/><circle cx="1882.8" cy="513.5" r="5.4"/><circle cx="1887.8" cy="515.9" r="5.4"/><circle cx="1892.8" cy="505" r="5.4"/><circle cx="1897.8" cy="514.3" r="5.4"/><circle cx="1902.8" cy="513.5" r="5.4"/><circle cx="1907.8" cy="508.9" r="5.4"/><circle cx="1912.8" cy="517.4" r="5.4"/><circle cx="1917.8" cy="505" r="5.4"/><circle cx="1922.8" cy="520.5" r="5.4"/><circle cx="1927.8" cy="516.7" r="5.4"/><circle cx="1932.8" cy="489.5" r="5.4"/><circle cx="1937.8" cy="519.8" r="5.4"/><circle cx="1942.8" cy="512.8" r="5.4"/><circle cx="1947.8" cy="512.8" r="5.4"/><circle cx="1952.8" cy="528.3" r="5.4"/><circle cx="1957.8" cy="512" r="5.4"/><circle cx="1962.8" cy="524.4" r="5.4"/><circle cx="1967.8" cy="505" r="5.4"/><circle cx="1972.8" cy="520.5" r="5.4"/><circle cx="1977.8" cy="515.1" r="5.4"/><circle cx="1982.8" cy="512.8" r="5.4"/><circle cx="1987.8" cy="524.4" r="5.4"/><circle cx="1992.8" cy="508.1" r="5.4"/><circle cx="1997.8" cy="512.8" r="5.4"/><circle cx="2002.8" cy="511.2" r="5.4"/><circle cx="2007.8" cy="510.4" r="5.4"/><circle cx="2012.8" cy="508.1" r="5.4"/><circle cx="2017.8" cy="512.8" r="5.4"/><circle cx="2022.8" cy="493.4" r="5.4"/><circle cx="2027.8" cy="508.1" r="5.4"/><circle cx="2032.8" cy="519" r="5.4"/><circle cx="2037.8" cy="506.6" r="5.4"/><circle cx="2042.8" cy="497.2" r="5.4"/><circle cx="2047.8" cy="524.4" r="5.4"/><circle cx="2052.8" cy="512" r="5.4"/><circle cx="2057.8" cy="515.1" r="5.4"/><circle cx="2062.8" cy="498" r="5.4"/><circle cx="2067.8" cy="507.3" r="5.4"/><circle cx="2072.8" cy="515.1" r="5.4"/><circle cx="2077.8" cy="495.7" r="5.4"/><circle cx="2082.8" cy="484.1" r="5.4"/><circle cx="2087.8" cy="512.8" r="5.4"/><circle cx="2092.8" cy="521.3" r="5.4"/><circle cx="2097.8" cy="536.8" r="5.4"/><circle cx="2102.8" cy="533.7" r="5.4"/></g>
<line x1="1505.8" x2="2103" y1="514.6" y2="514.6" stroke="#000" stroke-width="1.45" stroke-dasharray="7.3 5.3"/>
<g fill="#fff" stroke="#0f7b7c" stroke-width="2.2"><circle cx="1507.8" cy="621.3" r="5.4"/><circle cx="1512.8" cy="622.1" r="5.4"/><circle cx="1517.8" cy="628.3" r="5.4"/><circle cx="1522.8" cy="611.2" r="5.4"/><circle cx="1527.8" cy="618.2" r="5.4"/><circle cx="1532.8" cy="613.5" r="5.4"/><circle cx="1537.8" cy="618.2" r="5.4"/><circle cx="1542.8" cy="619" r="5.4"/><circle cx="1547.8" cy="615.9" r="5.4"/><circle cx="1552.8" cy="618.2" r="5.4"/><circle cx="1557.8" cy="616.7" r="5.4"/><circle cx="1562.8" cy="616.7" r="5.4"/><circle cx="1567.8" cy="611.2" r="5.4"/><circle cx="1572.8" cy="612.8" r="5.4"/><circle cx="1577.8" cy="605" r="5.4"/><circle cx="1582.8" cy="599.6" r="5.4"/><circle cx="1587.8" cy="612.8" r="5.4"/><circle cx="1592.8" cy="604.2" r="5.4"/><circle cx="1597.8" cy="609.7" r="5.4"/><circle cx="1602.8" cy="610.4" r="5.4"/><circle cx="1607.8" cy="611.2" r="5.4"/><circle cx="1612.8" cy="602.7" r="5.4"/><circle cx="1617.8" cy="608.9" r="5.4"/><circle cx="1622.8" cy="612" r="5.4"/><circle cx="1627.8" cy="617.4" r="5.4"/><circle cx="1632.8" cy="610.4" r="5.4"/><circle cx="1637.8" cy="613.5" r="5.4"/><circle cx="1642.8" cy="620.5" r="5.4"/><circle cx="1647.8" cy="612.8" r="5.4"/><circle cx="1652.8" cy="615.1" r="5.4"/><circle cx="1657.8" cy="612.8" r="5.4"/><circle cx="1662.8" cy="615.1" r="5.4"/><circle cx="1667.8" cy="612" r="5.4"/><circle cx="1672.8" cy="611.2" r="5.4"/><circle cx="1677.8" cy="613.5" r="5.4"/><circle cx="1682.8" cy="621.3" r="5.4"/><circle cx="1687.8" cy="621.3" r="5.4"/><circle cx="1692.8" cy="619.8" r="5.4"/><circle cx="1697.8" cy="615.1" r="5.4"/><circle cx="1702.8" cy="615.9" r="5.4"/><circle cx="1707.8" cy="619.8" r="5.4"/><circle cx="1712.8" cy="616.7" r="5.4"/><circle cx="1717.8" cy="614.3" r="5.4"/><circle cx="1722.8" cy="615.1" r="5.4"/><circle cx="1727.8" cy="613.5" r="5.4"/><circle cx="1732.8" cy="619" r="5.4"/><circle cx="1737.8" cy="617.4" r="5.4"/><circle cx="1742.8" cy="613.5" r="5.4"/><circle cx="1747.8" cy="608.9" r="5.4"/><circle cx="1752.8" cy="615.1" r="5.4"/><circle cx="1757.8" cy="608.1" r="5.4"/><circle cx="1762.8" cy="612" r="5.4"/><circle cx="1767.8" cy="615.1" r="5.4"/><circle cx="1772.8" cy="619" r="5.4"/><circle cx="1777.8" cy="615.9" r="5.4"/><circle cx="1782.8" cy="612.8" r="5.4"/><circle cx="1787.8" cy="619.8" r="5.4"/><circle cx="1792.8" cy="615.9" r="5.4"/><circle cx="1797.8" cy="612.8" r="5.4"/><circle cx="1802.8" cy="618.2" r="5.4"/><circle cx="1807.8" cy="618.2" r="5.4"/><circle cx="1812.8" cy="623.6" r="5.4"/><circle cx="1817.8" cy="610.4" r="5.4"/><circle cx="1822.8" cy="612" r="5.4"/><circle cx="1827.8" cy="615.1" r="5.4"/><circle cx="1832.8" cy="615.1" r="5.4"/><circle cx="1837.8" cy="612.8" r="5.4"/><circle cx="1842.8" cy="626" r="5.4"/><circle cx="1847.8" cy="614.3" r="5.4"/><circle cx="1852.8" cy="621.3" r="5.4"/><circle cx="1857.8" cy="622.9" r="5.4"/><circle cx="1862.8" cy="619.8" r="5.4"/><circle cx="1867.8" cy="622.9" r="5.4"/><circle cx="1872.8" cy="622.1" r="5.4"/><circle cx="1877.8" cy="619.8" r="5.4"/><circle cx="1882.8" cy="622.9" r="5.4"/><circle cx="1887.8" cy="623.6" r="5.4"/><circle cx="1892.8" cy="620.5" r="5.4"/><circle cx="1897.8" cy="622.1" r="5.4"/><circle cx="1902.8" cy="619.8" r="5.4"/><circle cx="1907.8" cy="621.3" r="5.4"/><circle cx="1912.8" cy="630.6" r="5.4"/><circle cx="1917.8" cy="623.6" r="5.4"/><circle cx="1922.8" cy="622.1" r="5.4"/><circle cx="1927.8" cy="623.6" r="5.4"/><circle cx="1932.8" cy="615.9" r="5.4"/><circle cx="1937.8" cy="623.6" r="5.4"/><circle cx="1942.8" cy="619.8" r="5.4"/><circle cx="1947.8" cy="616.7" r="5.4"/><circle cx="1952.8" cy="620.5" r="5.4"/><circle cx="1957.8" cy="616.7" r="5.4"/><circle cx="1962.8" cy="622.9" r="5.4"/><circle cx="1967.8" cy="615.9" r="5.4"/><circle cx="1972.8" cy="620.5" r="5.4"/><circle cx="1977.8" cy="621.3" r="5.4"/><circle cx="1982.8" cy="622.1" r="5.4"/><circle cx="1987.8" cy="619.8" r="5.4"/><circle cx="1992.8" cy="613.5" r="5.4"/><circle cx="1997.8" cy="622.1" r="5.4"/><circle cx="2002.8" cy="629.8" r="5.4"/><circle cx="2007.8" cy="616.7" r="5.4"/><circle cx="2012.8" cy="619.8" r="5.4"/><circle cx="2017.8" cy="612.8" r="5.4"/><circle cx="2022.8" cy="615.9" r="5.4"/><circle cx="2027.8" cy="608.9" r="5.4"/><circle cx="2032.8" cy="622.1" r="5.4"/><circle cx="2037.8" cy="611.2" r="5.4"/><circle cx="2042.8" cy="612.8" r="5.4"/><circle cx="2047.8" cy="618.2" r="5.4"/><circle cx="2052.8" cy="611.2" r="5.4"/><circle cx="2057.8" cy="626.7" r="5.4"/><circle cx="2062.8" cy="610.4" r="5.4"/><circle cx="2067.8" cy="621.3" r="5.4"/><circle cx="2072.8" cy="615.9" r="5.4"/><circle cx="2077.8" cy="605" r="5.4"/><circle cx="2082.8" cy="608.1" r="5.4"/><circle cx="2087.8" cy="618.2" r="5.4"/><circle cx="2092.8" cy="619" r="5.4"/><circle cx="2097.8" cy="631.4" r="5.4"/><circle cx="2102.8" cy="630.6" r="5.4"/></g>
<line x1="1505.8" x2="2103" y1="615.9" y2="615.9" stroke="#000" stroke-width="1.45" stroke-dasharray="7.3 5.3"/>
</g>
<text x="1889.5" y="214.2" font-size="39.5" class="i">1<tspan font-size="26" dy="-12.3">st</tspan><tspan dy="12.3" dx="-1.5"> rSV </tspan><tspan font-style="normal" dx="-1">x</tspan><tspan dx="1"> s</tspan><tspan font-size="27" dy="9.3" dx="-1.5">1</tspan></text>
<text x="1881" y="370" font-size="39.5" class="i">2<tspan font-size="26" dy="-12.3">nd</tspan><tspan dy="12.3" dx="-1.5"> rSV </tspan><tspan font-style="normal" dx="-1">x</tspan><tspan dx="1"> s</tspan><tspan font-size="27" dy="9.3" dx="-1.5">2</tspan></text>
<text x="1886" y="475.5" font-size="39.5" class="i">3<tspan font-size="26" dy="-12.3">rd</tspan><tspan dy="12.3" dx="-1.5"> rSV </tspan><tspan font-style="normal" dx="-1">x</tspan><tspan dx="1"> s</tspan><tspan font-size="27" dy="9.3" dx="-1.5">3</tspan></text>
<text x="1888.3" y="586.6" font-size="39.5" class="i">4<tspan font-size="26" dy="-12.3">th</tspan><tspan dy="12.3" dx="-1.5"> rSV </tspan><tspan font-style="normal" dx="-1">x</tspan><tspan dx="1"> s</tspan><tspan font-size="27" dy="9.3" dx="-1.5">4</tspan></text>
<rect x="1503.8" y="98.6" width="599.2" height="554.4" fill="none" stroke="#000" stroke-width="2"/>
<line x1="1561.3" x2="1561.3" y1="653" y2="662.5" stroke="#000" stroke-width="2"/>
<line x1="1661.3" x2="1661.3" y1="653" y2="658.5" stroke="#000" stroke-width="2"/>
<line x1="1761.3" x2="1761.3" y1="653" y2="662.5" stroke="#000" stroke-width="2"/>
<line x1="1861.3" x2="1861.3" y1="653" y2="658.5" stroke="#000" stroke-width="2"/>
<line x1="1961.3" x2="1961.3" y1="653" y2="662.5" stroke="#000" stroke-width="2"/>
<line x1="2061.3" x2="2061.3" y1="653" y2="658.5" stroke="#000" stroke-width="2"/>
<text x="1561.3" y="703.3" font-size="36" text-anchor="middle">0</text>
<text x="1706.4" y="703.3" font-size="36">1x10<tspan font-size="21" dy="-20.2" dx="1">-12</tspan></text>
<text x="1906.4" y="703.3" font-size="36">2x10<tspan font-size="21" dy="-20.2" dx="1">-12</tspan></text>
<text transform="translate(1477.5 373.2) rotate(-90)" font-size="38.3" text-anchor="middle">Amplitude (a.u.)</text>
<text x="1808" y="753" font-size="38.7" text-anchor="middle">Time (s)</text>
<text x="1447.5" y="162" font-size="51.5" text-anchor="start" stroke="#000" stroke-width="0.5">c</text>
</svg>
</body></html>
